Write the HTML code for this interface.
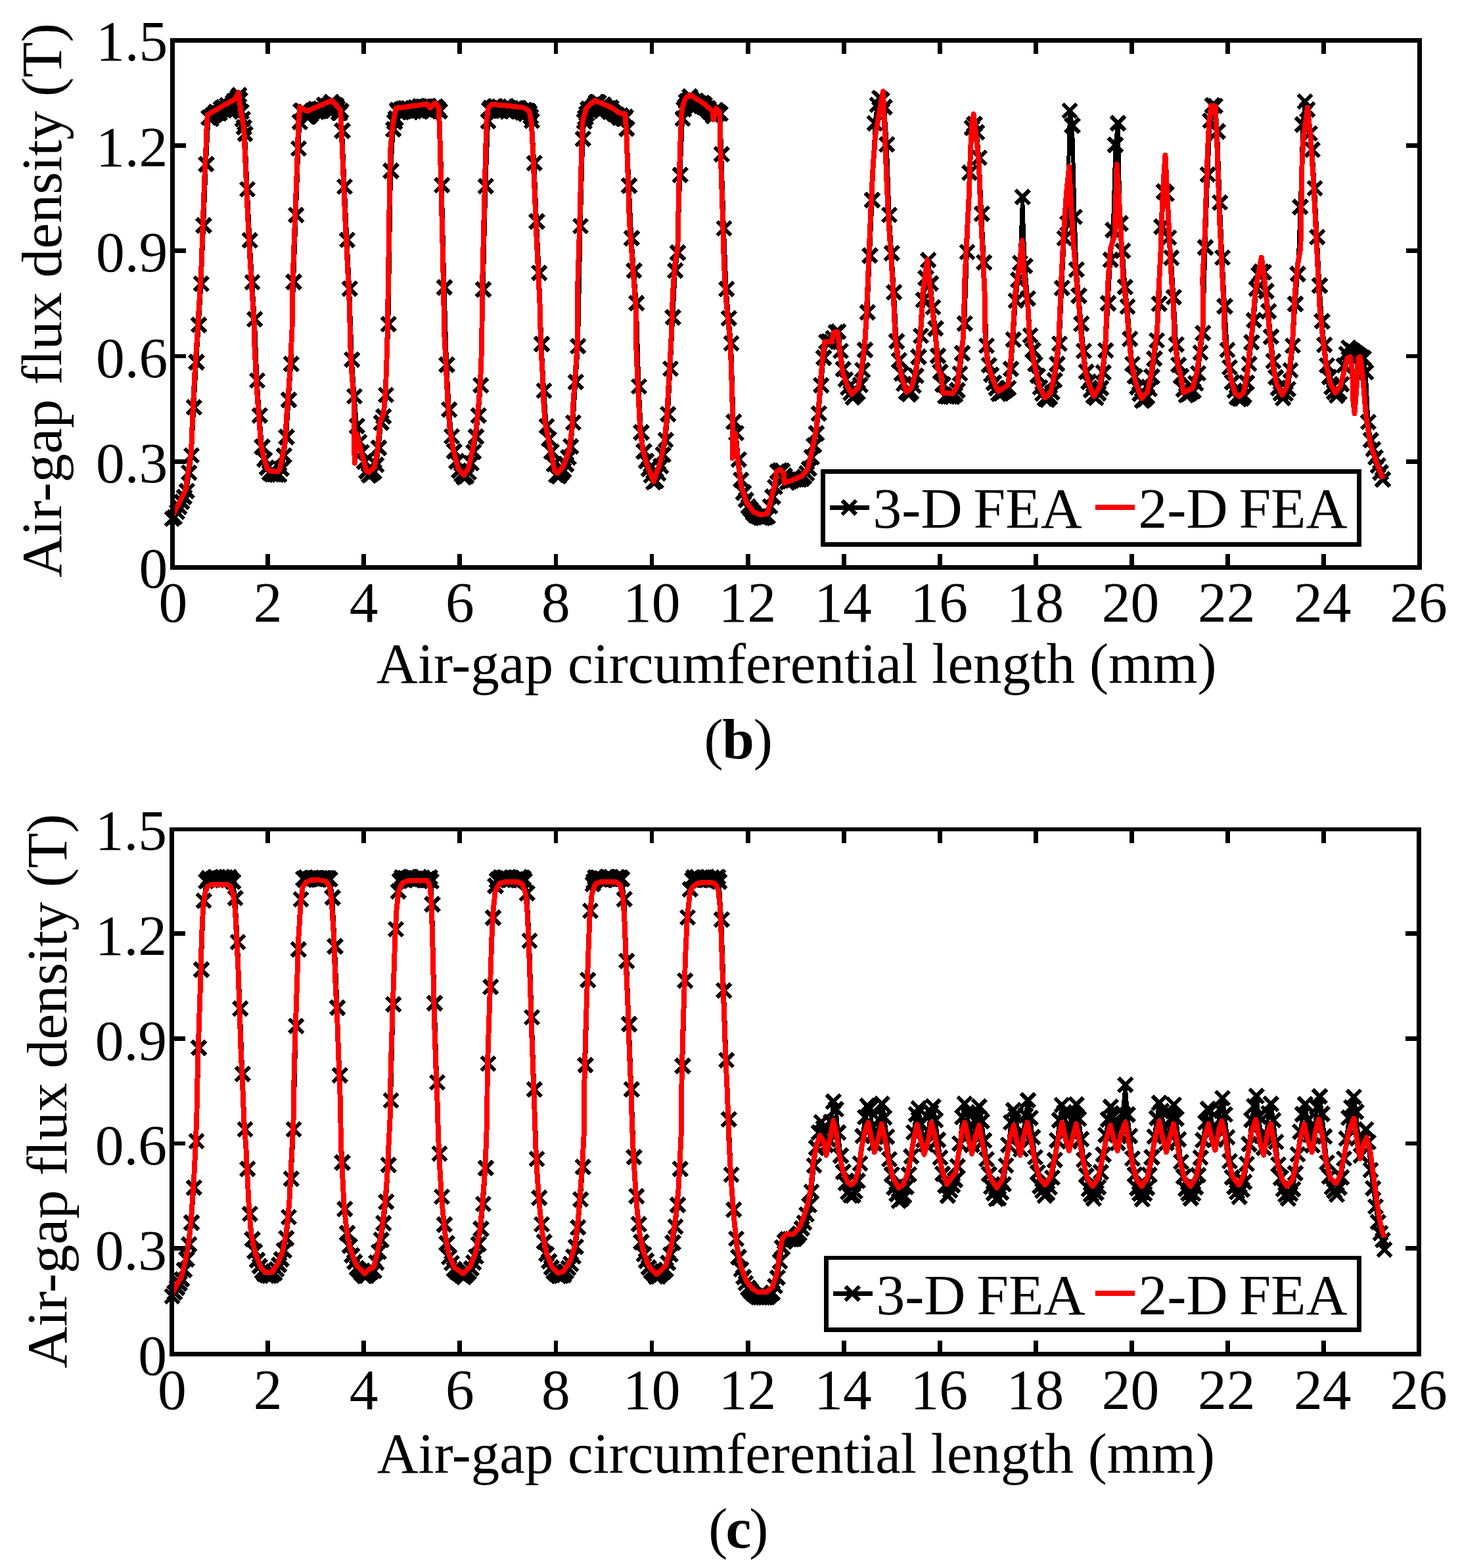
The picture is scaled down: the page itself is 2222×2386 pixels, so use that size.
<!DOCTYPE html>
<html lang="en"><head><meta charset="utf-8">
<title>Air-gap flux density: 3-D FEA vs 2-D FEA</title>
<style>
html,body{margin:0;padding:0;background:#fff}
body{width:2222px;height:2386px;overflow:hidden}
svg{display:block;shape-rendering:crispEdges}
.t{font-family:"Liberation Serif","DejaVu Serif",serif;font-size:87.5px;fill:#000}
.xl{font-size:87.2px}.xl2{font-size:86.95px}.yl{font-size:87.75px}
.m{text-anchor:middle}.e{text-anchor:end}
.b{font-weight:bold}
.ax{fill:none;stroke:#000;stroke-width:6.8}
.tk{fill:none;stroke:#000;stroke-width:6.8}
.lg{fill:#fff;stroke:#000;stroke-width:6.8}
.bl{fill:none;stroke:#000;stroke-width:6.0;stroke-linejoin:round}
.mk{fill:none;stroke:#000;stroke-width:6.0}
.rd{fill:none;stroke:#f00;stroke-width:7.9;stroke-linejoin:round;stroke-linecap:butt}
.ll{stroke:#000;stroke-width:7.1;fill:none}
.lr{stroke:#f00;stroke-width:8;fill:none}
</style></head><body>
<svg width="2222" height="2386" viewBox="0 0 2222 2386" role="img" aria-label="Air-gap flux density versus air-gap circumferential length, 3-D FEA and 2-D FEA">
<rect width="2222" height="2386" fill="#fff"/>
<g id="chart-b">
<polyline class="bl" points="262,789.7 265.7,787 269.4,779.1 273.1,771.5 276.8,763.9 280.5,756.3 284.2,747.1 287.9,719.3 291.6,693 295.3,619.7 299,550.9 302.7,494.5 306.4,431.7 310.1,343.1 313.8,250 317.5,179.1 319.4,178.9 321.2,180.8 323.1,176 324.9,175.3 326.8,174.8 328.6,170.6 330.5,172.1 332.3,172 334.2,172.2 336,165.5 337.9,166.1 339.7,163.4 341.6,168.2 343.4,166.2 345.3,160 347.1,166.5 349,165.3 350.8,161.8 352.7,160.5 354.5,155.8 356.4,153.7 358.2,156.8 360.1,151.2 361.9,148.3 363.8,144.7 365.6,152.1 367.5,170.2 369.3,181.4 371.2,193.8 373,203.8 376.7,288 380.4,365.7 384.1,429.4 387.8,485.7 391.5,578.8 395.2,632.4 398.9,679.9 402.6,699.2 406.3,711.9 410,719.6 413.7,721.7 417.4,722.1 421.1,722.4 424.8,722.1 428.5,713.3 432.2,693.1 435.9,665.1 439.6,608.6 443.3,553.6 447,429.2 450.7,327.3 454.4,225.9 456.3,185.7 458.1,168.9 460,168.9 461.8,171.3 463.7,170.8 465.5,170.5 467.4,177.3 469.2,177.9 471.1,175.9 472.9,174 474.8,170.1 476.6,168.6 478.5,168.3 480.3,165.7 482.2,170.5 484,166.8 485.9,169.6 487.7,165.1 489.6,168.9 491.4,167.2 493.3,159.6 495.1,160.5 497,165.3 498.8,161 500.7,164.3 502.5,158.8 504.4,155.4 506.2,159.1 508.1,161.9 509.9,159.8 511.8,160.3 513.6,164.3 515.5,171.4 517.3,171.7 519.2,168.6 521,199.2 524.7,284 528.4,365.2 532.1,439.2 535.8,547.4 539.5,603.1 543.2,648.3 546.9,672.5 550.6,688 554.3,702.5 558,717 561.7,723.5 565.4,721.3 569.1,717.9 572.8,707.4 576.5,681.7 580.2,643.1 583.9,633.8 587.6,600.9 591.3,493.2 595,260 598.7,196.9 600.6,185.5 602.4,180.3 604.3,167.2 606.1,170 608,168.8 609.8,166.5 611.7,170.6 613.5,165.6 615.4,169.4 617.2,164.9 619.1,167.1 620.9,165.2 622.8,165.4 624.6,170.8 626.5,169.2 628.3,164.9 630.2,169.3 632,163.7 633.9,164.9 635.7,168.3 637.6,166.4 639.4,161.8 641.3,168.7 643.1,162.2 645,162.3 646.8,166.2 648.7,162.4 650.5,161.9 652.4,161.1 654.2,163.8 656.1,169.9 657.9,165.5 659.8,166.7 661.6,163.2 663.5,162.2 665.3,166.5 667.2,165.5 669,169 672.7,281.8 676.4,437.4 680.1,555 683.8,623.1 687.5,663.8 691.2,686.9 694.9,702 698.6,716.3 702.3,722.1 706,726.6 709.7,724.6 713.4,719.1 717.1,704.8 720.8,687.8 724.5,664.6 728.2,632.4 731.9,586.2 735.6,440.5 739.3,283.3 743,184.6 744.9,166.8 746.7,164.5 748.6,168.5 750.4,166.4 752.3,162 754.1,161.7 756,166.2 757.8,168 759.7,162.2 761.5,168.4 763.4,168 765.2,165.9 767.1,164.6 768.9,162.2 770.8,161.9 772.6,169.5 774.5,163.9 776.3,167.8 778.2,164.5 780,169.2 781.9,167.6 783.7,165.4 785.6,164.7 787.4,169.2 789.3,164.2 791.1,165.7 793,168.6 794.8,171.1 796.7,169.5 798.5,167 800.4,173.3 802.2,168.7 804.1,168.4 805.9,171.6 807.8,177.2 809.6,184 813.3,248.3 817,336.9 820.7,415.4 824.4,523.6 828.1,594.6 831.8,648.5 835.5,667.8 839.2,687.1 842.9,706.5 846.6,722.9 850.3,724.9 854,720 857.7,715.2 861.4,706.6 865.1,695.9 868.8,679.3 872.5,642.8 876.2,581.4 879.9,526.8 883.6,344.1 887.3,211.3 889.2,184.8 891,178.9 892.9,173.1 894.7,165.8 896.6,166 898.4,168.5 900.3,167.5 902.1,163.2 904,161.8 905.8,159.3 907.7,155.5 909.5,155.5 911.4,156.1 913.2,164 915.1,163.1 916.9,165.9 918.8,159.1 920.6,164.8 922.5,164.3 924.3,167.1 926.2,164.5 928,170.7 929.9,164.1 931.7,169 933.6,171.7 935.4,174.2 937.3,174.1 939.1,175 941,176.9 942.8,179 944.7,175.7 946.5,179 948.4,181 950.2,181 952.1,177.7 953.9,195.9 957.6,282.5 961.3,362.5 965,411.8 968.7,461.2 972.4,587.9 976.1,658 979.8,687 983.5,701.6 987.2,713.6 990.9,723.7 994.6,733.7 998.3,731.6 1002,720.4 1005.7,709.3 1009.4,691.7 1013.1,669.7 1016.8,630.2 1020.5,560.9 1024.2,483 1027.9,411.8 1031.6,384.5 1035.3,266.2 1039,180.7 1040.9,166.3 1042.7,161.6 1044.6,154.5 1046.4,154.1 1048.3,152.8 1050.1,147.1 1052,150.7 1053.8,154.7 1055.7,155 1057.5,154.9 1059.4,153.4 1061.2,157.3 1063.1,157.2 1064.9,157.3 1066.8,161.6 1068.6,156.7 1070.5,163.2 1072.3,158.6 1074.2,164.6 1076,165.3 1077.9,164.9 1079.7,170.2 1081.6,170.2 1083.4,172.7 1085.3,176.8 1087.1,171.4 1089,167.9 1090.8,168.8 1092.7,172.7 1094.5,171.1 1096.4,173 1098.2,234.7 1101.9,347.6 1105.6,439.8 1109.3,484.3 1113,522.3 1116.7,641.7 1120.4,658.9 1124.1,699.3 1127.8,730.1 1131.5,749.4 1135.2,760.8 1138.9,770.5 1142.6,775.4 1146.3,780.5 1150,784.5 1153.7,785.9 1157.4,787.7 1161.1,788.3 1164.8,787.1 1168.5,786 1172.2,770.6 1175.9,756 1179.6,741.2 1183.3,717.8 1187,715.5 1190.7,716.4 1194.4,723.7 1198.1,733.9 1201.8,732.6 1205.5,731.3 1209.2,729.8 1212.9,729.1 1216.6,729.7 1220.3,729 1224,725.6 1227.7,720.4 1231.4,713.4 1235.1,695.8 1238.8,678 1242.5,659.5 1246.2,629.2 1249.9,586.3 1253.6,544.4 1257.3,520 1261,520 1264.7,520 1268.4,514.8 1272.1,505.5 1275.8,504.9 1279.5,534.1 1283.2,561.9 1286.9,577.4 1290.6,589.7 1294.3,598 1298,604.8 1301.7,600.9 1305.4,597 1309.1,585.8 1312.8,563.3 1316.5,532.4 1320.2,475.1 1323.9,388.9 1327.6,304.6 1331.3,187.9 1335,159.3 1338.7,149.4 1342.4,151.7 1346.1,163.1 1349.8,219.7 1353.5,326.9 1357.2,385.1 1360.9,444.8 1364.6,519.4 1368.3,548.2 1372,568.5 1375.7,584 1379.4,596.3 1383.1,599.9 1386.8,596.6 1390.5,587.2 1394.2,571.7 1397.9,543.1 1401.6,511 1405.3,456.2 1409,423 1412.7,395.8 1416.4,431.4 1420.1,467.4 1423.8,500 1427.5,541.4 1431.2,566 1434.9,585.1 1438.6,602.9 1442.3,603.2 1446,603.5 1449.7,603.7 1453.4,600.5 1457.1,594 1460.8,568.5 1464.5,537.7 1468.2,492.3 1471.9,383.5 1475.6,262.8 1479.3,194.9 1483,188.9 1486.7,201.4 1490.4,240 1494.1,325.3 1497.8,399.3 1501.5,526.2 1505.2,555.7 1508.9,570.2 1512.6,582.5 1516.3,590.9 1520,599.2 1523.7,598.6 1527.4,596.1 1531.1,593.4 1534.8,590.7 1538.5,561.3 1542.2,516.8 1545.9,457.5 1549.6,425.7 1552.4,400 1556.1,299.8 1559.8,405 1564.4,454.3 1568.1,510.5 1571.8,533 1575.5,554.2 1579.2,571.9 1582.9,589.5 1586.6,598.9 1590.3,606.9 1594,608.3 1597.7,604.3 1601.4,597.2 1605.1,578.7 1608.8,554 1612.5,523.1 1616.2,438.3 1619.9,362.5 1624.3,340 1628,168.5 1632,191 1635.7,330 1638.4,410.3 1642.1,450.1 1645.8,492.8 1649.5,534 1653.2,565.8 1656.9,580.9 1660.6,593.5 1664.3,602.8 1668,605.6 1671.7,598.6 1675.4,590.6 1679.1,566.8 1682.8,533.4 1686.5,461.5 1690.2,395.2 1693.8,350 1697.5,220.4 1701.4,187.5 1705.1,340 1708.7,381.8 1712.4,436.8 1716.1,466.4 1719.8,515.8 1723.5,554.1 1727.2,573 1730.9,589 1734.6,599.4 1738.3,609.8 1742,607.8 1745.7,603.3 1749.4,591.8 1753.1,573.1 1756.8,546 1760.5,518 1764.2,462.4 1767.9,345.1 1771.6,291.5 1775.3,294.6 1779,361.5 1782.7,392.3 1786.4,452.2 1790.1,524.3 1793.8,555.4 1797.5,572.4 1801.2,592.9 1804.9,601.6 1808.6,599.5 1812.3,597.4 1816,595.2 1819.7,583.2 1823.4,567.9 1827.1,536.6 1830.8,506.7 1834.5,376.6 1838.2,265.6 1841.9,183.7 1845.6,160.6 1849.3,161.3 1853,200.2 1856.7,308.1 1860.4,392 1864.1,466 1867.8,532.5 1871.5,558.8 1875.2,581.6 1878.9,594.7 1882.6,604.5 1886.3,607.1 1890,606.1 1893.7,602 1897.4,582.4 1901.1,553.7 1904.8,521 1908.5,487.3 1912.2,439.4 1915.9,417.7 1919.6,413.3 1923.3,414.3 1927,442.9 1930.7,473.8 1934.4,512.4 1938.1,549.4 1941.8,574.1 1945.5,590.6 1949.2,598.5 1952.9,605.8 1956.6,599.1 1960.3,592.4 1964,563.3 1967.7,526 1971.4,462.6 1975.1,416.9 1978.8,315 1982.5,189.6 1986.2,154.5 1989.9,166.8 1993.6,203.1 1997.3,227.7 2001,286.6 2004.7,360.6 2008.4,434.6 2012.1,488.9 2015.8,524.8 2019.5,556.1 2023.2,574 2026.9,589.2 2030.6,596.5 2034.3,602.1 2038,597 2041.7,584.9 2045.4,556.2 2049.1,538.6 2052.8,529.4 2056.5,532 2060.2,534.7 2063.9,537.5 2067.6,540.2 2071.3,542.7 2075,545.2 2078.7,566.2 2082.4,642.2 2086.1,669.7 2089.8,683.6 2093.5,695.9 2097.2,708.4 2100.9,719 2104.6,729.5"/>
<path class="mk" d="M251.4 779.1l21.2 21.2m0 -21.2l-21.2 21.2M255.1 776.4l21.2 21.2m0 -21.2l-21.2 21.2M258.8 768.5l21.2 21.2m0 -21.2l-21.2 21.2M262.5 760.9l21.2 21.2m0 -21.2l-21.2 21.2M266.2 753.3l21.2 21.2m0 -21.2l-21.2 21.2M269.9 745.7l21.2 21.2m0 -21.2l-21.2 21.2M273.6 736.5l21.2 21.2m0 -21.2l-21.2 21.2M277.3 708.7l21.2 21.2m0 -21.2l-21.2 21.2M281 682.4l21.2 21.2m0 -21.2l-21.2 21.2M284.7 609.1l21.2 21.2m0 -21.2l-21.2 21.2M288.4 540.3l21.2 21.2m0 -21.2l-21.2 21.2M292.1 483.9l21.2 21.2m0 -21.2l-21.2 21.2M295.8 421.1l21.2 21.2m0 -21.2l-21.2 21.2M299.5 332.5l21.2 21.2m0 -21.2l-21.2 21.2M303.2 239.4l21.2 21.2m0 -21.2l-21.2 21.2M306.9 168.5l21.2 21.2m0 -21.2l-21.2 21.2M308.8 168.3l21.2 21.2m0 -21.2l-21.2 21.2M310.6 170.2l21.2 21.2m0 -21.2l-21.2 21.2M312.5 165.4l21.2 21.2m0 -21.2l-21.2 21.2M314.3 164.7l21.2 21.2m0 -21.2l-21.2 21.2M316.2 164.2l21.2 21.2m0 -21.2l-21.2 21.2M318 160l21.2 21.2m0 -21.2l-21.2 21.2M319.9 161.5l21.2 21.2m0 -21.2l-21.2 21.2M321.7 161.4l21.2 21.2m0 -21.2l-21.2 21.2M323.6 161.6l21.2 21.2m0 -21.2l-21.2 21.2M325.4 154.9l21.2 21.2m0 -21.2l-21.2 21.2M327.3 155.5l21.2 21.2m0 -21.2l-21.2 21.2M329.1 152.8l21.2 21.2m0 -21.2l-21.2 21.2M331 157.6l21.2 21.2m0 -21.2l-21.2 21.2M332.8 155.6l21.2 21.2m0 -21.2l-21.2 21.2M334.7 149.4l21.2 21.2m0 -21.2l-21.2 21.2M336.5 155.9l21.2 21.2m0 -21.2l-21.2 21.2M338.4 154.7l21.2 21.2m0 -21.2l-21.2 21.2M340.2 151.2l21.2 21.2m0 -21.2l-21.2 21.2M342.1 149.9l21.2 21.2m0 -21.2l-21.2 21.2M343.9 145.2l21.2 21.2m0 -21.2l-21.2 21.2M345.8 143.1l21.2 21.2m0 -21.2l-21.2 21.2M347.6 146.2l21.2 21.2m0 -21.2l-21.2 21.2M349.5 140.6l21.2 21.2m0 -21.2l-21.2 21.2M351.3 137.7l21.2 21.2m0 -21.2l-21.2 21.2M353.2 134.1l21.2 21.2m0 -21.2l-21.2 21.2M355 141.5l21.2 21.2m0 -21.2l-21.2 21.2M356.9 159.6l21.2 21.2m0 -21.2l-21.2 21.2M358.7 170.8l21.2 21.2m0 -21.2l-21.2 21.2M360.6 183.2l21.2 21.2m0 -21.2l-21.2 21.2M362.4 193.2l21.2 21.2m0 -21.2l-21.2 21.2M366.1 277.4l21.2 21.2m0 -21.2l-21.2 21.2M369.8 355.1l21.2 21.2m0 -21.2l-21.2 21.2M373.5 418.8l21.2 21.2m0 -21.2l-21.2 21.2M377.2 475.1l21.2 21.2m0 -21.2l-21.2 21.2M380.9 568.2l21.2 21.2m0 -21.2l-21.2 21.2M384.6 621.8l21.2 21.2m0 -21.2l-21.2 21.2M388.3 669.3l21.2 21.2m0 -21.2l-21.2 21.2M392 688.6l21.2 21.2m0 -21.2l-21.2 21.2M395.7 701.3l21.2 21.2m0 -21.2l-21.2 21.2M399.4 709l21.2 21.2m0 -21.2l-21.2 21.2M403.1 711.1l21.2 21.2m0 -21.2l-21.2 21.2M406.8 711.5l21.2 21.2m0 -21.2l-21.2 21.2M410.5 711.8l21.2 21.2m0 -21.2l-21.2 21.2M414.2 711.5l21.2 21.2m0 -21.2l-21.2 21.2M417.9 702.7l21.2 21.2m0 -21.2l-21.2 21.2M421.6 682.5l21.2 21.2m0 -21.2l-21.2 21.2M425.3 654.5l21.2 21.2m0 -21.2l-21.2 21.2M429 598l21.2 21.2m0 -21.2l-21.2 21.2M432.7 543l21.2 21.2m0 -21.2l-21.2 21.2M436.4 418.6l21.2 21.2m0 -21.2l-21.2 21.2M440.1 316.7l21.2 21.2m0 -21.2l-21.2 21.2M443.8 215.3l21.2 21.2m0 -21.2l-21.2 21.2M445.7 175.1l21.2 21.2m0 -21.2l-21.2 21.2M447.5 158.3l21.2 21.2m0 -21.2l-21.2 21.2M449.4 158.3l21.2 21.2m0 -21.2l-21.2 21.2M451.2 160.7l21.2 21.2m0 -21.2l-21.2 21.2M453.1 160.2l21.2 21.2m0 -21.2l-21.2 21.2M454.9 159.9l21.2 21.2m0 -21.2l-21.2 21.2M456.8 166.7l21.2 21.2m0 -21.2l-21.2 21.2M458.6 167.3l21.2 21.2m0 -21.2l-21.2 21.2M460.5 165.3l21.2 21.2m0 -21.2l-21.2 21.2M462.3 163.4l21.2 21.2m0 -21.2l-21.2 21.2M464.2 159.5l21.2 21.2m0 -21.2l-21.2 21.2M466 158l21.2 21.2m0 -21.2l-21.2 21.2M467.9 157.7l21.2 21.2m0 -21.2l-21.2 21.2M469.7 155.1l21.2 21.2m0 -21.2l-21.2 21.2M471.6 159.9l21.2 21.2m0 -21.2l-21.2 21.2M473.4 156.2l21.2 21.2m0 -21.2l-21.2 21.2M475.3 159l21.2 21.2m0 -21.2l-21.2 21.2M477.1 154.5l21.2 21.2m0 -21.2l-21.2 21.2M479 158.3l21.2 21.2m0 -21.2l-21.2 21.2M480.8 156.6l21.2 21.2m0 -21.2l-21.2 21.2M482.7 149l21.2 21.2m0 -21.2l-21.2 21.2M484.5 149.9l21.2 21.2m0 -21.2l-21.2 21.2M486.4 154.7l21.2 21.2m0 -21.2l-21.2 21.2M488.2 150.4l21.2 21.2m0 -21.2l-21.2 21.2M490.1 153.7l21.2 21.2m0 -21.2l-21.2 21.2M491.9 148.2l21.2 21.2m0 -21.2l-21.2 21.2M493.8 144.8l21.2 21.2m0 -21.2l-21.2 21.2M495.6 148.5l21.2 21.2m0 -21.2l-21.2 21.2M497.5 151.3l21.2 21.2m0 -21.2l-21.2 21.2M499.3 149.2l21.2 21.2m0 -21.2l-21.2 21.2M501.2 149.7l21.2 21.2m0 -21.2l-21.2 21.2M503 153.7l21.2 21.2m0 -21.2l-21.2 21.2M504.9 160.8l21.2 21.2m0 -21.2l-21.2 21.2M506.7 161.1l21.2 21.2m0 -21.2l-21.2 21.2M508.6 158l21.2 21.2m0 -21.2l-21.2 21.2M510.4 188.6l21.2 21.2m0 -21.2l-21.2 21.2M514.1 273.4l21.2 21.2m0 -21.2l-21.2 21.2M517.8 354.6l21.2 21.2m0 -21.2l-21.2 21.2M521.5 428.6l21.2 21.2m0 -21.2l-21.2 21.2M525.2 536.8l21.2 21.2m0 -21.2l-21.2 21.2M528.9 592.5l21.2 21.2m0 -21.2l-21.2 21.2M532.6 637.7l21.2 21.2m0 -21.2l-21.2 21.2M536.3 661.9l21.2 21.2m0 -21.2l-21.2 21.2M540 677.4l21.2 21.2m0 -21.2l-21.2 21.2M543.7 691.9l21.2 21.2m0 -21.2l-21.2 21.2M547.4 706.4l21.2 21.2m0 -21.2l-21.2 21.2M551.1 712.9l21.2 21.2m0 -21.2l-21.2 21.2M554.8 710.7l21.2 21.2m0 -21.2l-21.2 21.2M558.5 707.3l21.2 21.2m0 -21.2l-21.2 21.2M562.2 696.8l21.2 21.2m0 -21.2l-21.2 21.2M565.9 671.1l21.2 21.2m0 -21.2l-21.2 21.2M569.6 632.5l21.2 21.2m0 -21.2l-21.2 21.2M573.3 623.2l21.2 21.2m0 -21.2l-21.2 21.2M577 590.3l21.2 21.2m0 -21.2l-21.2 21.2M580.7 482.6l21.2 21.2m0 -21.2l-21.2 21.2M584.4 249.4l21.2 21.2m0 -21.2l-21.2 21.2M588.1 186.3l21.2 21.2m0 -21.2l-21.2 21.2M590 174.9l21.2 21.2m0 -21.2l-21.2 21.2M591.8 169.7l21.2 21.2m0 -21.2l-21.2 21.2M593.7 156.6l21.2 21.2m0 -21.2l-21.2 21.2M595.5 159.4l21.2 21.2m0 -21.2l-21.2 21.2M597.4 158.2l21.2 21.2m0 -21.2l-21.2 21.2M599.2 155.9l21.2 21.2m0 -21.2l-21.2 21.2M601.1 160l21.2 21.2m0 -21.2l-21.2 21.2M602.9 155l21.2 21.2m0 -21.2l-21.2 21.2M604.8 158.8l21.2 21.2m0 -21.2l-21.2 21.2M606.6 154.3l21.2 21.2m0 -21.2l-21.2 21.2M608.5 156.5l21.2 21.2m0 -21.2l-21.2 21.2M610.3 154.6l21.2 21.2m0 -21.2l-21.2 21.2M612.2 154.8l21.2 21.2m0 -21.2l-21.2 21.2M614 160.2l21.2 21.2m0 -21.2l-21.2 21.2M615.9 158.6l21.2 21.2m0 -21.2l-21.2 21.2M617.7 154.3l21.2 21.2m0 -21.2l-21.2 21.2M619.6 158.7l21.2 21.2m0 -21.2l-21.2 21.2M621.4 153.1l21.2 21.2m0 -21.2l-21.2 21.2M623.3 154.3l21.2 21.2m0 -21.2l-21.2 21.2M625.1 157.7l21.2 21.2m0 -21.2l-21.2 21.2M627 155.8l21.2 21.2m0 -21.2l-21.2 21.2M628.8 151.2l21.2 21.2m0 -21.2l-21.2 21.2M630.7 158.1l21.2 21.2m0 -21.2l-21.2 21.2M632.5 151.6l21.2 21.2m0 -21.2l-21.2 21.2M634.4 151.7l21.2 21.2m0 -21.2l-21.2 21.2M636.2 155.6l21.2 21.2m0 -21.2l-21.2 21.2M638.1 151.8l21.2 21.2m0 -21.2l-21.2 21.2M639.9 151.3l21.2 21.2m0 -21.2l-21.2 21.2M641.8 150.5l21.2 21.2m0 -21.2l-21.2 21.2M643.6 153.2l21.2 21.2m0 -21.2l-21.2 21.2M645.5 159.3l21.2 21.2m0 -21.2l-21.2 21.2M647.3 154.9l21.2 21.2m0 -21.2l-21.2 21.2M649.2 156.1l21.2 21.2m0 -21.2l-21.2 21.2M651 152.6l21.2 21.2m0 -21.2l-21.2 21.2M652.9 151.6l21.2 21.2m0 -21.2l-21.2 21.2M654.7 155.9l21.2 21.2m0 -21.2l-21.2 21.2M656.6 154.9l21.2 21.2m0 -21.2l-21.2 21.2M658.4 158.4l21.2 21.2m0 -21.2l-21.2 21.2M662.1 271.2l21.2 21.2m0 -21.2l-21.2 21.2M665.8 426.8l21.2 21.2m0 -21.2l-21.2 21.2M669.5 544.4l21.2 21.2m0 -21.2l-21.2 21.2M673.2 612.5l21.2 21.2m0 -21.2l-21.2 21.2M676.9 653.2l21.2 21.2m0 -21.2l-21.2 21.2M680.6 676.3l21.2 21.2m0 -21.2l-21.2 21.2M684.3 691.4l21.2 21.2m0 -21.2l-21.2 21.2M688 705.7l21.2 21.2m0 -21.2l-21.2 21.2M691.7 711.5l21.2 21.2m0 -21.2l-21.2 21.2M695.4 716l21.2 21.2m0 -21.2l-21.2 21.2M699.1 714l21.2 21.2m0 -21.2l-21.2 21.2M702.8 708.5l21.2 21.2m0 -21.2l-21.2 21.2M706.5 694.2l21.2 21.2m0 -21.2l-21.2 21.2M710.2 677.2l21.2 21.2m0 -21.2l-21.2 21.2M713.9 654l21.2 21.2m0 -21.2l-21.2 21.2M717.6 621.8l21.2 21.2m0 -21.2l-21.2 21.2M721.3 575.6l21.2 21.2m0 -21.2l-21.2 21.2M725 429.9l21.2 21.2m0 -21.2l-21.2 21.2M728.7 272.7l21.2 21.2m0 -21.2l-21.2 21.2M732.4 174l21.2 21.2m0 -21.2l-21.2 21.2M734.3 156.2l21.2 21.2m0 -21.2l-21.2 21.2M736.1 153.9l21.2 21.2m0 -21.2l-21.2 21.2M738 157.9l21.2 21.2m0 -21.2l-21.2 21.2M739.8 155.8l21.2 21.2m0 -21.2l-21.2 21.2M741.7 151.4l21.2 21.2m0 -21.2l-21.2 21.2M743.5 151.1l21.2 21.2m0 -21.2l-21.2 21.2M745.4 155.6l21.2 21.2m0 -21.2l-21.2 21.2M747.2 157.4l21.2 21.2m0 -21.2l-21.2 21.2M749.1 151.6l21.2 21.2m0 -21.2l-21.2 21.2M750.9 157.8l21.2 21.2m0 -21.2l-21.2 21.2M752.8 157.4l21.2 21.2m0 -21.2l-21.2 21.2M754.6 155.3l21.2 21.2m0 -21.2l-21.2 21.2M756.5 154l21.2 21.2m0 -21.2l-21.2 21.2M758.3 151.6l21.2 21.2m0 -21.2l-21.2 21.2M760.2 151.3l21.2 21.2m0 -21.2l-21.2 21.2M762 158.9l21.2 21.2m0 -21.2l-21.2 21.2M763.9 153.3l21.2 21.2m0 -21.2l-21.2 21.2M765.7 157.2l21.2 21.2m0 -21.2l-21.2 21.2M767.6 153.9l21.2 21.2m0 -21.2l-21.2 21.2M769.4 158.6l21.2 21.2m0 -21.2l-21.2 21.2M771.3 157l21.2 21.2m0 -21.2l-21.2 21.2M773.1 154.8l21.2 21.2m0 -21.2l-21.2 21.2M775 154.1l21.2 21.2m0 -21.2l-21.2 21.2M776.8 158.6l21.2 21.2m0 -21.2l-21.2 21.2M778.7 153.6l21.2 21.2m0 -21.2l-21.2 21.2M780.5 155.1l21.2 21.2m0 -21.2l-21.2 21.2M782.4 158l21.2 21.2m0 -21.2l-21.2 21.2M784.2 160.5l21.2 21.2m0 -21.2l-21.2 21.2M786.1 158.9l21.2 21.2m0 -21.2l-21.2 21.2M787.9 156.4l21.2 21.2m0 -21.2l-21.2 21.2M789.8 162.7l21.2 21.2m0 -21.2l-21.2 21.2M791.6 158.1l21.2 21.2m0 -21.2l-21.2 21.2M793.5 157.8l21.2 21.2m0 -21.2l-21.2 21.2M795.3 161l21.2 21.2m0 -21.2l-21.2 21.2M797.2 166.6l21.2 21.2m0 -21.2l-21.2 21.2M799 173.4l21.2 21.2m0 -21.2l-21.2 21.2M802.7 237.7l21.2 21.2m0 -21.2l-21.2 21.2M806.4 326.3l21.2 21.2m0 -21.2l-21.2 21.2M810.1 404.8l21.2 21.2m0 -21.2l-21.2 21.2M813.8 513l21.2 21.2m0 -21.2l-21.2 21.2M817.5 584l21.2 21.2m0 -21.2l-21.2 21.2M821.2 637.9l21.2 21.2m0 -21.2l-21.2 21.2M824.9 657.2l21.2 21.2m0 -21.2l-21.2 21.2M828.6 676.5l21.2 21.2m0 -21.2l-21.2 21.2M832.3 695.9l21.2 21.2m0 -21.2l-21.2 21.2M836 712.3l21.2 21.2m0 -21.2l-21.2 21.2M839.7 714.3l21.2 21.2m0 -21.2l-21.2 21.2M843.4 709.4l21.2 21.2m0 -21.2l-21.2 21.2M847.1 704.6l21.2 21.2m0 -21.2l-21.2 21.2M850.8 696l21.2 21.2m0 -21.2l-21.2 21.2M854.5 685.3l21.2 21.2m0 -21.2l-21.2 21.2M858.2 668.7l21.2 21.2m0 -21.2l-21.2 21.2M861.9 632.2l21.2 21.2m0 -21.2l-21.2 21.2M865.6 570.8l21.2 21.2m0 -21.2l-21.2 21.2M869.3 516.2l21.2 21.2m0 -21.2l-21.2 21.2M873 333.5l21.2 21.2m0 -21.2l-21.2 21.2M876.7 200.7l21.2 21.2m0 -21.2l-21.2 21.2M878.6 174.2l21.2 21.2m0 -21.2l-21.2 21.2M880.4 168.3l21.2 21.2m0 -21.2l-21.2 21.2M882.3 162.5l21.2 21.2m0 -21.2l-21.2 21.2M884.1 155.2l21.2 21.2m0 -21.2l-21.2 21.2M886 155.4l21.2 21.2m0 -21.2l-21.2 21.2M887.8 157.9l21.2 21.2m0 -21.2l-21.2 21.2M889.7 156.9l21.2 21.2m0 -21.2l-21.2 21.2M891.5 152.6l21.2 21.2m0 -21.2l-21.2 21.2M893.4 151.2l21.2 21.2m0 -21.2l-21.2 21.2M895.2 148.7l21.2 21.2m0 -21.2l-21.2 21.2M897.1 144.9l21.2 21.2m0 -21.2l-21.2 21.2M898.9 144.9l21.2 21.2m0 -21.2l-21.2 21.2M900.8 145.5l21.2 21.2m0 -21.2l-21.2 21.2M902.6 153.4l21.2 21.2m0 -21.2l-21.2 21.2M904.5 152.5l21.2 21.2m0 -21.2l-21.2 21.2M906.3 155.3l21.2 21.2m0 -21.2l-21.2 21.2M908.2 148.5l21.2 21.2m0 -21.2l-21.2 21.2M910 154.2l21.2 21.2m0 -21.2l-21.2 21.2M911.9 153.7l21.2 21.2m0 -21.2l-21.2 21.2M913.7 156.5l21.2 21.2m0 -21.2l-21.2 21.2M915.6 153.9l21.2 21.2m0 -21.2l-21.2 21.2M917.4 160.1l21.2 21.2m0 -21.2l-21.2 21.2M919.3 153.5l21.2 21.2m0 -21.2l-21.2 21.2M921.1 158.4l21.2 21.2m0 -21.2l-21.2 21.2M923 161.1l21.2 21.2m0 -21.2l-21.2 21.2M924.8 163.6l21.2 21.2m0 -21.2l-21.2 21.2M926.7 163.5l21.2 21.2m0 -21.2l-21.2 21.2M928.5 164.4l21.2 21.2m0 -21.2l-21.2 21.2M930.4 166.3l21.2 21.2m0 -21.2l-21.2 21.2M932.2 168.4l21.2 21.2m0 -21.2l-21.2 21.2M934.1 165.1l21.2 21.2m0 -21.2l-21.2 21.2M935.9 168.4l21.2 21.2m0 -21.2l-21.2 21.2M937.8 170.4l21.2 21.2m0 -21.2l-21.2 21.2M939.6 170.4l21.2 21.2m0 -21.2l-21.2 21.2M941.5 167.1l21.2 21.2m0 -21.2l-21.2 21.2M943.3 185.3l21.2 21.2m0 -21.2l-21.2 21.2M947 271.9l21.2 21.2m0 -21.2l-21.2 21.2M950.7 351.9l21.2 21.2m0 -21.2l-21.2 21.2M954.4 401.2l21.2 21.2m0 -21.2l-21.2 21.2M958.1 450.6l21.2 21.2m0 -21.2l-21.2 21.2M961.8 577.3l21.2 21.2m0 -21.2l-21.2 21.2M965.5 647.4l21.2 21.2m0 -21.2l-21.2 21.2M969.2 676.4l21.2 21.2m0 -21.2l-21.2 21.2M972.9 691l21.2 21.2m0 -21.2l-21.2 21.2M976.6 703l21.2 21.2m0 -21.2l-21.2 21.2M980.3 713.1l21.2 21.2m0 -21.2l-21.2 21.2M984 723.1l21.2 21.2m0 -21.2l-21.2 21.2M987.7 721l21.2 21.2m0 -21.2l-21.2 21.2M991.4 709.8l21.2 21.2m0 -21.2l-21.2 21.2M995.1 698.7l21.2 21.2m0 -21.2l-21.2 21.2M998.8 681.1l21.2 21.2m0 -21.2l-21.2 21.2M1002.5 659.1l21.2 21.2m0 -21.2l-21.2 21.2M1006.2 619.6l21.2 21.2m0 -21.2l-21.2 21.2M1009.9 550.3l21.2 21.2m0 -21.2l-21.2 21.2M1013.6 472.4l21.2 21.2m0 -21.2l-21.2 21.2M1017.3 401.2l21.2 21.2m0 -21.2l-21.2 21.2M1021 373.9l21.2 21.2m0 -21.2l-21.2 21.2M1024.7 255.6l21.2 21.2m0 -21.2l-21.2 21.2M1028.4 170.1l21.2 21.2m0 -21.2l-21.2 21.2M1030.3 155.7l21.2 21.2m0 -21.2l-21.2 21.2M1032.1 151l21.2 21.2m0 -21.2l-21.2 21.2M1034 143.9l21.2 21.2m0 -21.2l-21.2 21.2M1035.8 143.5l21.2 21.2m0 -21.2l-21.2 21.2M1037.7 142.2l21.2 21.2m0 -21.2l-21.2 21.2M1039.5 136.5l21.2 21.2m0 -21.2l-21.2 21.2M1041.4 140.1l21.2 21.2m0 -21.2l-21.2 21.2M1043.2 144.1l21.2 21.2m0 -21.2l-21.2 21.2M1045.1 144.4l21.2 21.2m0 -21.2l-21.2 21.2M1046.9 144.3l21.2 21.2m0 -21.2l-21.2 21.2M1048.8 142.8l21.2 21.2m0 -21.2l-21.2 21.2M1050.6 146.7l21.2 21.2m0 -21.2l-21.2 21.2M1052.5 146.6l21.2 21.2m0 -21.2l-21.2 21.2M1054.3 146.7l21.2 21.2m0 -21.2l-21.2 21.2M1056.2 151l21.2 21.2m0 -21.2l-21.2 21.2M1058 146.1l21.2 21.2m0 -21.2l-21.2 21.2M1059.9 152.6l21.2 21.2m0 -21.2l-21.2 21.2M1061.7 148l21.2 21.2m0 -21.2l-21.2 21.2M1063.6 154l21.2 21.2m0 -21.2l-21.2 21.2M1065.4 154.7l21.2 21.2m0 -21.2l-21.2 21.2M1067.3 154.3l21.2 21.2m0 -21.2l-21.2 21.2M1069.1 159.6l21.2 21.2m0 -21.2l-21.2 21.2M1071 159.6l21.2 21.2m0 -21.2l-21.2 21.2M1072.8 162.1l21.2 21.2m0 -21.2l-21.2 21.2M1074.7 166.2l21.2 21.2m0 -21.2l-21.2 21.2M1076.5 160.8l21.2 21.2m0 -21.2l-21.2 21.2M1078.4 157.3l21.2 21.2m0 -21.2l-21.2 21.2M1080.2 158.2l21.2 21.2m0 -21.2l-21.2 21.2M1082.1 162.1l21.2 21.2m0 -21.2l-21.2 21.2M1083.9 160.5l21.2 21.2m0 -21.2l-21.2 21.2M1085.8 162.4l21.2 21.2m0 -21.2l-21.2 21.2M1087.6 224.1l21.2 21.2m0 -21.2l-21.2 21.2M1091.3 337l21.2 21.2m0 -21.2l-21.2 21.2M1095 429.2l21.2 21.2m0 -21.2l-21.2 21.2M1098.7 473.7l21.2 21.2m0 -21.2l-21.2 21.2M1102.4 511.7l21.2 21.2m0 -21.2l-21.2 21.2M1106.1 631.1l21.2 21.2m0 -21.2l-21.2 21.2M1109.8 648.3l21.2 21.2m0 -21.2l-21.2 21.2M1113.5 688.7l21.2 21.2m0 -21.2l-21.2 21.2M1117.2 719.5l21.2 21.2m0 -21.2l-21.2 21.2M1120.9 738.8l21.2 21.2m0 -21.2l-21.2 21.2M1124.6 750.2l21.2 21.2m0 -21.2l-21.2 21.2M1128.3 759.9l21.2 21.2m0 -21.2l-21.2 21.2M1132 764.8l21.2 21.2m0 -21.2l-21.2 21.2M1135.7 769.9l21.2 21.2m0 -21.2l-21.2 21.2M1139.4 773.9l21.2 21.2m0 -21.2l-21.2 21.2M1143.1 775.3l21.2 21.2m0 -21.2l-21.2 21.2M1146.8 777.1l21.2 21.2m0 -21.2l-21.2 21.2M1150.5 777.7l21.2 21.2m0 -21.2l-21.2 21.2M1154.2 776.5l21.2 21.2m0 -21.2l-21.2 21.2M1157.9 775.4l21.2 21.2m0 -21.2l-21.2 21.2M1161.6 760l21.2 21.2m0 -21.2l-21.2 21.2M1165.3 745.4l21.2 21.2m0 -21.2l-21.2 21.2M1169 730.6l21.2 21.2m0 -21.2l-21.2 21.2M1172.7 707.2l21.2 21.2m0 -21.2l-21.2 21.2M1176.4 704.9l21.2 21.2m0 -21.2l-21.2 21.2M1180.1 705.8l21.2 21.2m0 -21.2l-21.2 21.2M1183.8 713.1l21.2 21.2m0 -21.2l-21.2 21.2M1187.5 723.3l21.2 21.2m0 -21.2l-21.2 21.2M1191.2 722l21.2 21.2m0 -21.2l-21.2 21.2M1194.9 720.7l21.2 21.2m0 -21.2l-21.2 21.2M1198.6 719.2l21.2 21.2m0 -21.2l-21.2 21.2M1202.3 718.5l21.2 21.2m0 -21.2l-21.2 21.2M1206 719.1l21.2 21.2m0 -21.2l-21.2 21.2M1209.7 718.4l21.2 21.2m0 -21.2l-21.2 21.2M1213.4 715l21.2 21.2m0 -21.2l-21.2 21.2M1217.1 709.8l21.2 21.2m0 -21.2l-21.2 21.2M1220.8 702.8l21.2 21.2m0 -21.2l-21.2 21.2M1224.5 685.2l21.2 21.2m0 -21.2l-21.2 21.2M1228.2 667.4l21.2 21.2m0 -21.2l-21.2 21.2M1231.9 648.9l21.2 21.2m0 -21.2l-21.2 21.2M1235.6 618.6l21.2 21.2m0 -21.2l-21.2 21.2M1239.3 575.7l21.2 21.2m0 -21.2l-21.2 21.2M1243 533.8l21.2 21.2m0 -21.2l-21.2 21.2M1246.7 509.4l21.2 21.2m0 -21.2l-21.2 21.2M1250.4 509.4l21.2 21.2m0 -21.2l-21.2 21.2M1254.1 509.4l21.2 21.2m0 -21.2l-21.2 21.2M1257.8 504.2l21.2 21.2m0 -21.2l-21.2 21.2M1261.5 494.9l21.2 21.2m0 -21.2l-21.2 21.2M1265.2 494.3l21.2 21.2m0 -21.2l-21.2 21.2M1268.9 523.5l21.2 21.2m0 -21.2l-21.2 21.2M1272.6 551.3l21.2 21.2m0 -21.2l-21.2 21.2M1276.3 566.8l21.2 21.2m0 -21.2l-21.2 21.2M1280 579.1l21.2 21.2m0 -21.2l-21.2 21.2M1283.7 587.4l21.2 21.2m0 -21.2l-21.2 21.2M1287.4 594.2l21.2 21.2m0 -21.2l-21.2 21.2M1291.1 590.3l21.2 21.2m0 -21.2l-21.2 21.2M1294.8 586.4l21.2 21.2m0 -21.2l-21.2 21.2M1298.5 575.2l21.2 21.2m0 -21.2l-21.2 21.2M1302.2 552.7l21.2 21.2m0 -21.2l-21.2 21.2M1305.9 521.8l21.2 21.2m0 -21.2l-21.2 21.2M1309.6 464.5l21.2 21.2m0 -21.2l-21.2 21.2M1313.3 378.3l21.2 21.2m0 -21.2l-21.2 21.2M1317 294l21.2 21.2m0 -21.2l-21.2 21.2M1320.7 177.3l21.2 21.2m0 -21.2l-21.2 21.2M1324.4 148.7l21.2 21.2m0 -21.2l-21.2 21.2M1328.1 138.8l21.2 21.2m0 -21.2l-21.2 21.2M1331.8 141.1l21.2 21.2m0 -21.2l-21.2 21.2M1335.5 152.5l21.2 21.2m0 -21.2l-21.2 21.2M1339.2 209.1l21.2 21.2m0 -21.2l-21.2 21.2M1342.9 316.3l21.2 21.2m0 -21.2l-21.2 21.2M1346.6 374.5l21.2 21.2m0 -21.2l-21.2 21.2M1350.3 434.2l21.2 21.2m0 -21.2l-21.2 21.2M1354 508.8l21.2 21.2m0 -21.2l-21.2 21.2M1357.7 537.6l21.2 21.2m0 -21.2l-21.2 21.2M1361.4 557.9l21.2 21.2m0 -21.2l-21.2 21.2M1365.1 573.4l21.2 21.2m0 -21.2l-21.2 21.2M1368.8 585.7l21.2 21.2m0 -21.2l-21.2 21.2M1372.5 589.3l21.2 21.2m0 -21.2l-21.2 21.2M1376.2 586l21.2 21.2m0 -21.2l-21.2 21.2M1379.9 576.6l21.2 21.2m0 -21.2l-21.2 21.2M1383.6 561.1l21.2 21.2m0 -21.2l-21.2 21.2M1387.3 532.5l21.2 21.2m0 -21.2l-21.2 21.2M1391 500.4l21.2 21.2m0 -21.2l-21.2 21.2M1394.7 445.6l21.2 21.2m0 -21.2l-21.2 21.2M1398.4 412.4l21.2 21.2m0 -21.2l-21.2 21.2M1402.1 385.2l21.2 21.2m0 -21.2l-21.2 21.2M1405.8 420.8l21.2 21.2m0 -21.2l-21.2 21.2M1409.5 456.8l21.2 21.2m0 -21.2l-21.2 21.2M1413.2 489.4l21.2 21.2m0 -21.2l-21.2 21.2M1416.9 530.8l21.2 21.2m0 -21.2l-21.2 21.2M1420.6 555.4l21.2 21.2m0 -21.2l-21.2 21.2M1424.3 574.5l21.2 21.2m0 -21.2l-21.2 21.2M1428 592.3l21.2 21.2m0 -21.2l-21.2 21.2M1431.7 592.6l21.2 21.2m0 -21.2l-21.2 21.2M1435.4 592.9l21.2 21.2m0 -21.2l-21.2 21.2M1439.1 593.1l21.2 21.2m0 -21.2l-21.2 21.2M1442.8 589.9l21.2 21.2m0 -21.2l-21.2 21.2M1446.5 583.4l21.2 21.2m0 -21.2l-21.2 21.2M1450.2 557.9l21.2 21.2m0 -21.2l-21.2 21.2M1453.9 527.1l21.2 21.2m0 -21.2l-21.2 21.2M1457.6 481.7l21.2 21.2m0 -21.2l-21.2 21.2M1461.3 372.9l21.2 21.2m0 -21.2l-21.2 21.2M1465 252.2l21.2 21.2m0 -21.2l-21.2 21.2M1468.7 184.3l21.2 21.2m0 -21.2l-21.2 21.2M1472.4 178.3l21.2 21.2m0 -21.2l-21.2 21.2M1476.1 190.8l21.2 21.2m0 -21.2l-21.2 21.2M1479.8 229.4l21.2 21.2m0 -21.2l-21.2 21.2M1483.5 314.7l21.2 21.2m0 -21.2l-21.2 21.2M1487.2 388.7l21.2 21.2m0 -21.2l-21.2 21.2M1490.9 515.6l21.2 21.2m0 -21.2l-21.2 21.2M1494.6 545.1l21.2 21.2m0 -21.2l-21.2 21.2M1498.3 559.6l21.2 21.2m0 -21.2l-21.2 21.2M1502 571.9l21.2 21.2m0 -21.2l-21.2 21.2M1505.7 580.3l21.2 21.2m0 -21.2l-21.2 21.2M1509.4 588.6l21.2 21.2m0 -21.2l-21.2 21.2M1513.1 588l21.2 21.2m0 -21.2l-21.2 21.2M1516.8 585.5l21.2 21.2m0 -21.2l-21.2 21.2M1520.5 582.8l21.2 21.2m0 -21.2l-21.2 21.2M1524.2 580.1l21.2 21.2m0 -21.2l-21.2 21.2M1527.9 550.7l21.2 21.2m0 -21.2l-21.2 21.2M1531.6 506.2l21.2 21.2m0 -21.2l-21.2 21.2M1535.3 446.9l21.2 21.2m0 -21.2l-21.2 21.2M1539 415.1l21.2 21.2m0 -21.2l-21.2 21.2M1541.8 389.4l21.2 21.2m0 -21.2l-21.2 21.2M1545.5 289.2l21.2 21.2m0 -21.2l-21.2 21.2M1549.2 394.4l21.2 21.2m0 -21.2l-21.2 21.2M1553.8 443.7l21.2 21.2m0 -21.2l-21.2 21.2M1557.5 499.9l21.2 21.2m0 -21.2l-21.2 21.2M1561.2 522.4l21.2 21.2m0 -21.2l-21.2 21.2M1564.9 543.6l21.2 21.2m0 -21.2l-21.2 21.2M1568.6 561.3l21.2 21.2m0 -21.2l-21.2 21.2M1572.3 578.9l21.2 21.2m0 -21.2l-21.2 21.2M1576 588.3l21.2 21.2m0 -21.2l-21.2 21.2M1579.7 596.3l21.2 21.2m0 -21.2l-21.2 21.2M1583.4 597.7l21.2 21.2m0 -21.2l-21.2 21.2M1587.1 593.7l21.2 21.2m0 -21.2l-21.2 21.2M1590.8 586.6l21.2 21.2m0 -21.2l-21.2 21.2M1594.5 568.1l21.2 21.2m0 -21.2l-21.2 21.2M1598.2 543.4l21.2 21.2m0 -21.2l-21.2 21.2M1601.9 512.5l21.2 21.2m0 -21.2l-21.2 21.2M1605.6 427.7l21.2 21.2m0 -21.2l-21.2 21.2M1609.3 351.9l21.2 21.2m0 -21.2l-21.2 21.2M1613.7 329.4l21.2 21.2m0 -21.2l-21.2 21.2M1617.4 157.9l21.2 21.2m0 -21.2l-21.2 21.2M1621.4 180.4l21.2 21.2m0 -21.2l-21.2 21.2M1625.1 319.4l21.2 21.2m0 -21.2l-21.2 21.2M1627.8 399.7l21.2 21.2m0 -21.2l-21.2 21.2M1631.5 439.5l21.2 21.2m0 -21.2l-21.2 21.2M1635.2 482.2l21.2 21.2m0 -21.2l-21.2 21.2M1638.9 523.4l21.2 21.2m0 -21.2l-21.2 21.2M1642.6 555.2l21.2 21.2m0 -21.2l-21.2 21.2M1646.3 570.3l21.2 21.2m0 -21.2l-21.2 21.2M1650 582.9l21.2 21.2m0 -21.2l-21.2 21.2M1653.7 592.2l21.2 21.2m0 -21.2l-21.2 21.2M1657.4 595l21.2 21.2m0 -21.2l-21.2 21.2M1661.1 588l21.2 21.2m0 -21.2l-21.2 21.2M1664.8 580l21.2 21.2m0 -21.2l-21.2 21.2M1668.5 556.2l21.2 21.2m0 -21.2l-21.2 21.2M1672.2 522.8l21.2 21.2m0 -21.2l-21.2 21.2M1675.9 450.9l21.2 21.2m0 -21.2l-21.2 21.2M1679.6 384.6l21.2 21.2m0 -21.2l-21.2 21.2M1683.2 339.4l21.2 21.2m0 -21.2l-21.2 21.2M1686.9 209.8l21.2 21.2m0 -21.2l-21.2 21.2M1690.8 176.9l21.2 21.2m0 -21.2l-21.2 21.2M1694.5 329.4l21.2 21.2m0 -21.2l-21.2 21.2M1698.1 371.2l21.2 21.2m0 -21.2l-21.2 21.2M1701.8 426.2l21.2 21.2m0 -21.2l-21.2 21.2M1705.5 455.8l21.2 21.2m0 -21.2l-21.2 21.2M1709.2 505.2l21.2 21.2m0 -21.2l-21.2 21.2M1712.9 543.5l21.2 21.2m0 -21.2l-21.2 21.2M1716.6 562.4l21.2 21.2m0 -21.2l-21.2 21.2M1720.3 578.4l21.2 21.2m0 -21.2l-21.2 21.2M1724 588.8l21.2 21.2m0 -21.2l-21.2 21.2M1727.7 599.2l21.2 21.2m0 -21.2l-21.2 21.2M1731.4 597.2l21.2 21.2m0 -21.2l-21.2 21.2M1735.1 592.7l21.2 21.2m0 -21.2l-21.2 21.2M1738.8 581.2l21.2 21.2m0 -21.2l-21.2 21.2M1742.5 562.5l21.2 21.2m0 -21.2l-21.2 21.2M1746.2 535.4l21.2 21.2m0 -21.2l-21.2 21.2M1749.9 507.4l21.2 21.2m0 -21.2l-21.2 21.2M1753.6 451.8l21.2 21.2m0 -21.2l-21.2 21.2M1757.3 334.5l21.2 21.2m0 -21.2l-21.2 21.2M1761 280.9l21.2 21.2m0 -21.2l-21.2 21.2M1764.7 284l21.2 21.2m0 -21.2l-21.2 21.2M1768.4 350.9l21.2 21.2m0 -21.2l-21.2 21.2M1772.1 381.7l21.2 21.2m0 -21.2l-21.2 21.2M1775.8 441.6l21.2 21.2m0 -21.2l-21.2 21.2M1779.5 513.7l21.2 21.2m0 -21.2l-21.2 21.2M1783.2 544.8l21.2 21.2m0 -21.2l-21.2 21.2M1786.9 561.8l21.2 21.2m0 -21.2l-21.2 21.2M1790.6 582.3l21.2 21.2m0 -21.2l-21.2 21.2M1794.3 591l21.2 21.2m0 -21.2l-21.2 21.2M1798 588.9l21.2 21.2m0 -21.2l-21.2 21.2M1801.7 586.8l21.2 21.2m0 -21.2l-21.2 21.2M1805.4 584.6l21.2 21.2m0 -21.2l-21.2 21.2M1809.1 572.6l21.2 21.2m0 -21.2l-21.2 21.2M1812.8 557.3l21.2 21.2m0 -21.2l-21.2 21.2M1816.5 526l21.2 21.2m0 -21.2l-21.2 21.2M1820.2 496.1l21.2 21.2m0 -21.2l-21.2 21.2M1823.9 366l21.2 21.2m0 -21.2l-21.2 21.2M1827.6 255l21.2 21.2m0 -21.2l-21.2 21.2M1831.3 173.1l21.2 21.2m0 -21.2l-21.2 21.2M1835 150l21.2 21.2m0 -21.2l-21.2 21.2M1838.7 150.7l21.2 21.2m0 -21.2l-21.2 21.2M1842.4 189.6l21.2 21.2m0 -21.2l-21.2 21.2M1846.1 297.5l21.2 21.2m0 -21.2l-21.2 21.2M1849.8 381.4l21.2 21.2m0 -21.2l-21.2 21.2M1853.5 455.4l21.2 21.2m0 -21.2l-21.2 21.2M1857.2 521.9l21.2 21.2m0 -21.2l-21.2 21.2M1860.9 548.2l21.2 21.2m0 -21.2l-21.2 21.2M1864.6 571l21.2 21.2m0 -21.2l-21.2 21.2M1868.3 584.1l21.2 21.2m0 -21.2l-21.2 21.2M1872 593.9l21.2 21.2m0 -21.2l-21.2 21.2M1875.7 596.5l21.2 21.2m0 -21.2l-21.2 21.2M1879.4 595.5l21.2 21.2m0 -21.2l-21.2 21.2M1883.1 591.4l21.2 21.2m0 -21.2l-21.2 21.2M1886.8 571.8l21.2 21.2m0 -21.2l-21.2 21.2M1890.5 543.1l21.2 21.2m0 -21.2l-21.2 21.2M1894.2 510.4l21.2 21.2m0 -21.2l-21.2 21.2M1897.9 476.7l21.2 21.2m0 -21.2l-21.2 21.2M1901.6 428.8l21.2 21.2m0 -21.2l-21.2 21.2M1905.3 407.1l21.2 21.2m0 -21.2l-21.2 21.2M1909 402.7l21.2 21.2m0 -21.2l-21.2 21.2M1912.7 403.7l21.2 21.2m0 -21.2l-21.2 21.2M1916.4 432.3l21.2 21.2m0 -21.2l-21.2 21.2M1920.1 463.2l21.2 21.2m0 -21.2l-21.2 21.2M1923.8 501.8l21.2 21.2m0 -21.2l-21.2 21.2M1927.5 538.8l21.2 21.2m0 -21.2l-21.2 21.2M1931.2 563.5l21.2 21.2m0 -21.2l-21.2 21.2M1934.9 580l21.2 21.2m0 -21.2l-21.2 21.2M1938.6 587.9l21.2 21.2m0 -21.2l-21.2 21.2M1942.3 595.2l21.2 21.2m0 -21.2l-21.2 21.2M1946 588.5l21.2 21.2m0 -21.2l-21.2 21.2M1949.7 581.8l21.2 21.2m0 -21.2l-21.2 21.2M1953.4 552.7l21.2 21.2m0 -21.2l-21.2 21.2M1957.1 515.4l21.2 21.2m0 -21.2l-21.2 21.2M1960.8 452l21.2 21.2m0 -21.2l-21.2 21.2M1964.5 406.3l21.2 21.2m0 -21.2l-21.2 21.2M1968.2 304.4l21.2 21.2m0 -21.2l-21.2 21.2M1971.9 179l21.2 21.2m0 -21.2l-21.2 21.2M1975.6 143.9l21.2 21.2m0 -21.2l-21.2 21.2M1979.3 156.2l21.2 21.2m0 -21.2l-21.2 21.2M1983 192.5l21.2 21.2m0 -21.2l-21.2 21.2M1986.7 217.1l21.2 21.2m0 -21.2l-21.2 21.2M1990.4 276l21.2 21.2m0 -21.2l-21.2 21.2M1994.1 350l21.2 21.2m0 -21.2l-21.2 21.2M1997.8 424l21.2 21.2m0 -21.2l-21.2 21.2M2001.5 478.3l21.2 21.2m0 -21.2l-21.2 21.2M2005.2 514.2l21.2 21.2m0 -21.2l-21.2 21.2M2008.9 545.5l21.2 21.2m0 -21.2l-21.2 21.2M2012.6 563.4l21.2 21.2m0 -21.2l-21.2 21.2M2016.3 578.6l21.2 21.2m0 -21.2l-21.2 21.2M2020 585.9l21.2 21.2m0 -21.2l-21.2 21.2M2023.7 591.5l21.2 21.2m0 -21.2l-21.2 21.2M2027.4 586.4l21.2 21.2m0 -21.2l-21.2 21.2M2031.1 574.3l21.2 21.2m0 -21.2l-21.2 21.2M2034.8 545.6l21.2 21.2m0 -21.2l-21.2 21.2M2038.5 528l21.2 21.2m0 -21.2l-21.2 21.2M2042.2 518.8l21.2 21.2m0 -21.2l-21.2 21.2M2045.9 521.4l21.2 21.2m0 -21.2l-21.2 21.2M2049.6 524.1l21.2 21.2m0 -21.2l-21.2 21.2M2053.3 526.9l21.2 21.2m0 -21.2l-21.2 21.2M2057 529.6l21.2 21.2m0 -21.2l-21.2 21.2M2060.7 532.1l21.2 21.2m0 -21.2l-21.2 21.2M2064.4 534.6l21.2 21.2m0 -21.2l-21.2 21.2M2068.1 555.6l21.2 21.2m0 -21.2l-21.2 21.2M2071.8 631.6l21.2 21.2m0 -21.2l-21.2 21.2M2075.5 659.1l21.2 21.2m0 -21.2l-21.2 21.2M2079.2 673l21.2 21.2m0 -21.2l-21.2 21.2M2082.9 685.3l21.2 21.2m0 -21.2l-21.2 21.2M2086.6 697.8l21.2 21.2m0 -21.2l-21.2 21.2M2090.3 708.4l21.2 21.2m0 -21.2l-21.2 21.2M2094 718.9l21.2 21.2m0 -21.2l-21.2 21.2"/>
<polyline class="rd" points="263,784.7 271.6,767.4 282.4,745.8 286.3,717.7 291.1,685.3 293.2,631.3 296.5,566.4 300.8,501.6 306.6,402.5 308.8,337.7 311.2,272.9 313.3,229.7 314.8,186.4 315.9,174.6 336.4,162.7 358,150.8 362.8,140.6 366.7,171.3 371,192.9 373.6,251.3 376.4,316.1 379.7,380.9 382.3,424.1 387.2,499.8 387.2,523.2 390.5,588 393.7,631.3 396.9,674.5 401.3,696.1 406.7,713.4 411,716.6 422.9,717.7 426.1,713.4 429.4,696.1 433.7,674.5 436.3,631.3 439.7,588 442.3,544.8 444.5,501.6 445.6,424.1 448.8,337.7 452.1,251.3 454.2,186.4 456.4,162.7 467.2,169.2 505,152.9 518,167 520.1,208 522.7,272.9 525.5,337.7 528.8,402.5 532,467.4 533.1,523.2 535.3,566.4 538.5,609.7 539.6,704.7 542.8,659.4 549.3,685.3 557.9,717.7 561.2,718.8 569.8,711.2 574.1,687.5 578.5,642.1 583.9,629.1 587.1,588 589.3,523.2 591,424.1 592.5,316.1 594,229.7 596.8,197.2 602.2,164.8 650,158.3 654.3,164.4 663,156.6 667.7,163.7 669.4,208 671,272.9 672.7,337.7 674.2,402.5 675.5,467.4 675.9,501.6 677,523.2 679.2,566.4 681.3,609.7 684.6,652.9 690,685.3 697.5,713.4 705.8,723.1 712.7,713.4 719.2,685.3 724.6,652.9 728.9,609.7 731.7,566.4 733.2,523.2 734.3,424.1 736.4,337.7 738.6,251.3 740.3,186.4 742.9,164.8 748.3,158.8 768.9,160.5 796.9,163.7 805.6,169.2 808.8,186.4 811,229.7 813.8,294.5 816.4,359.3 819.6,424.1 821.8,467.4 822.9,523.2 825.5,566.4 827.2,609.7 829.4,642.1 833.7,663.7 840.2,696.1 844.5,717.7 848.8,719.9 857.5,709.1 866.1,685.3 870.4,652.9 872.6,609.7 875.8,566.4 878.6,523.2 879.5,424.1 882.3,337.7 884.5,251.3 886.6,186.4 892,164.8 905,152.9 928.8,162.7 943.9,172.4 951.5,173.5 953.6,208 955.8,272.9 957.9,337.7 961.2,380.9 964.4,424.1 967.7,467.4 968.1,523.2 969.8,566.4 972,609.7 974.1,652.9 978.5,685.3 983.9,704.7 994.7,732.8 1004.4,704.7 1010.9,674.5 1015.2,631.3 1017.4,588 1020,544.8 1022.1,501.6 1023.9,445.8 1027.1,402.5 1031.4,376.6 1032.1,337.7 1033.6,272.9 1035.7,208 1037.9,164.8 1043.3,149.7 1050,144.3 1071.6,157.9 1084.6,169.2 1085.7,182.1 1090,164.8 1095.4,171.3 1095.8,208 1098,272.9 1100.1,337.7 1101.9,402.5 1105.1,456.6 1111.6,523.2 1113.1,566.4 1114.4,609.7 1115.5,652.9 1114.8,697.2 1119.2,659.4 1122.4,696.1 1127.8,739.3 1136.4,765.3 1147.2,779.3 1158,783.6 1167.8,781.5 1173.2,760.9 1178.6,739.3 1181.8,717.7 1187.2,714.5 1192.6,719.9 1193.7,735 1205.6,730.7 1220.7,724.2 1229.4,713.4 1235.8,685.3 1242.3,652.9 1246.7,609.7 1249.9,566.4 1253.1,534 1255.3,520 1266.1,520 1268.3,505.9 1274.7,504.9 1278,534 1282.3,566.4 1289.9,588 1296.4,599.9 1306.1,590.2 1310.4,566.4 1313.6,544.8 1316.9,512.4 1320.1,445.8 1322.7,380.9 1325.5,316.1 1328.8,251.3 1332,208 1337.4,175.6 1343.9,138.9 1346.1,186.4 1349.3,272.9 1352.5,337.7 1356.9,402.5 1360.1,456.6 1362.3,512.4 1366.6,544.8 1372,572.9 1379.6,596.7 1387.1,590.2 1393.6,566.4 1397.5,534 1401.2,501.6 1404.4,445.8 1411.3,395 1417.4,456.6 1424.9,523.2 1427.1,560 1432.5,570.8 1434.7,597.8 1450,598.9 1456.5,588 1461.9,544.8 1466.2,512.4 1468.4,424.1 1471.6,359.3 1474.9,294.5 1477,229.7 1479.2,186.4 1481.8,173.5 1485.7,208 1490,251.3 1492.1,316.1 1495.4,380.9 1498.6,445.8 1499.7,523.2 1504,555.6 1510.5,577.2 1519.2,595.6 1534.3,585.9 1538.6,544.8 1541.8,501.6 1545.1,445.8 1548.3,424.1 1551.6,402.5 1555.5,365.8 1559.1,424.1 1564.5,467.4 1566.7,512.4 1574.3,555.6 1581.8,588 1590.5,605.3 1599.1,596.7 1605.6,566.4 1611,523.2 1615.3,424.1 1618.6,359.3 1622.9,294.5 1627.2,253.4 1630.4,316.1 1633.7,370.1 1638,424.1 1642.3,467.4 1646.7,523.2 1652.1,566.4 1658.5,588 1665,603.2 1673.7,588 1679.1,555.6 1682.3,523.2 1686.6,424.1 1689.9,378.8 1696.4,359.3 1698.5,294.5 1699.6,250.2 1703.9,316.1 1707.2,380.9 1709.3,424.1 1714.7,467.4 1718,512.4 1722.3,555.6 1728.8,583.7 1737.4,606.4 1746.1,596.7 1752.5,566.4 1756.9,534 1761.2,501.6 1763.3,445.8 1766.6,380.9 1768.7,316.1 1770.9,272.9 1773.5,236.1 1776.3,294.5 1779.6,359.3 1782.8,424.1 1786,467.4 1787.1,512.4 1792.5,555.6 1797.9,577.2 1801.2,597.8 1815.2,590.2 1821.7,566.4 1827.1,523.2 1831.4,490.8 1830.3,424.1 1833.6,359.3 1835.7,294.5 1837.9,229.7 1840.1,186.4 1843.3,160.5 1849.7,161.6 1851.9,208 1854,272.9 1856.2,337.7 1859.4,402.5 1862.7,467.4 1863.7,512.4 1868.1,544.8 1873.5,577.2 1880,598.9 1886.4,603.2 1892.9,596.7 1898.3,566.4 1901.6,534 1905.9,501.6 1910.2,445.8 1915.6,413.3 1919.9,391.7 1924.3,424.1 1928.6,467.4 1932.9,512.4 1937.2,555.6 1942.6,583.7 1951.3,601 1958.8,588 1963.2,555.6 1967.5,512.4 1970.7,445.8 1975,402.5 1979.4,376.6 1980.4,316.1 1981.5,251.3 1983.7,208 1990.2,163.7 1994.5,208 1998.8,272.9 2002.1,337.7 2005.3,402.5 2008.5,467.4 2012.9,512.4 2018.3,555.6 2024.7,583.7 2032.3,597.8 2039.9,588 2046.4,562.1 2050.7,544.8 2055,542.7 2058.2,566.4 2059.3,609.7 2061.5,629.1 2064.7,588 2066.9,544.8 2070.1,542.7 2074.4,577.2 2078.8,631.3 2085.3,674.5 2096.1,706.9 2104.7,728.5"/>
<rect class="ax" x="262.5" y="61.6" width="1898.2" height="801.9"/>
<path class="tk" d="M407.6 860.1v-17.3M407.6 65v17.3M553.7 860.1v-17.3M553.7 65v17.3M699.8 860.1v-17.3M699.8 65v17.3M845.9 860.1v-17.3M845.9 65v17.3M992 860.1v-17.3M992 65v17.3M1138.1 860.1v-17.3M1138.1 65v17.3M1284.2 860.1v-17.3M1284.2 65v17.3M1430.3 860.1v-17.3M1430.3 65v17.3M1576.4 860.1v-17.3M1576.4 65v17.3M1722.4 860.1v-17.3M1722.4 65v17.3M1868.5 860.1v-17.3M1868.5 65v17.3M2014.6 860.1v-17.3M2014.6 65v17.3M265.9 702.4h17.3M2157.2 702.4h-17.3M265.9 542h17.3M2157.2 542h-17.3M265.9 381.7h17.3M2157.2 381.7h-17.3M265.9 221.3h17.3M2157.2 221.3h-17.3"/>
<text class="t tl m" x="263.4" y="946">0</text>
<text class="t tl m" x="407.6" y="946">2</text>
<text class="t tl m" x="553.7" y="946">4</text>
<text class="t tl m" x="699.8" y="946">6</text>
<text class="t tl m" x="845.9" y="946">8</text>
<text class="t tl m" x="991.7" y="946">10</text>
<text class="t tl m" x="1137.5" y="946">12</text>
<text class="t tl m" x="1283" y="946">14</text>
<text class="t tl m" x="1429.3" y="946">16</text>
<text class="t tl m" x="1575.4" y="946">18</text>
<text class="t tl m" x="1720.6" y="946">20</text>
<text class="t tl m" x="1866.7" y="946">22</text>
<text class="t tl m" x="2012.8" y="946">24</text>
<text class="t tl m" x="2158.9" y="946">26</text>
<text class="t tl e" x="255.3" y="894.3">0</text>
<text class="t tl e" x="255.3" y="733.9">0.3</text>
<text class="t tl e" x="255.3" y="573.5">0.6</text>
<text class="t tl e" x="255.3" y="413.2">0.9</text>
<text class="t tl e" x="255.3" y="252.8">1.2</text>
<text class="t tl e" x="255.3" y="92.4">1.5</text>
<text class="t xl" x="572.7" y="1039">Air-gap circumferential length (mm)</text>
<text class="t yl m" transform="translate(93.1 456.9) rotate(-90)">Air-gap flux density (T)</text>
<text class="t cp" x="1071.4" y="1153.9">(<tspan class="b" dx="-1.4">b</tspan><tspan dx="-1">)</tspan></text>
<rect class="lg" x="1252.6" y="717.4" width="816" height="111.1"/>
<path class="ll" d="M1263 772.3H1323"/>
<path class="mk" d="M1281.8 761.7l21.2 21.2m0 -21.2l-21.2 21.2"/>
<path class="lr" d="M1666.8 771.7H1727.2"/>
<text class="t lt" x="1328.6" y="803.1">3-D<tspan dx="-5"> FEA</tspan></text>
<text class="t lt" x="1732.5" y="803.1">2-D<tspan dx="-5"> FEA</tspan></text>
</g>
<g id="chart-c">
<polyline class="bl" points="262,1972.6 265.7,1966.9 269.4,1959.5 273.1,1953 276.8,1946.9 280.5,1932.4 284.2,1916 287.9,1893.8 291.6,1860.5 295.3,1807.3 299,1736.4 302.7,1594.5 306.4,1475.6 310.1,1370.7 313.8,1340.9 315.7,1339.1 317.5,1336.7 319.4,1338.1 321.2,1339.4 323.1,1337.2 324.9,1337 326.8,1334.9 328.6,1335.8 330.5,1337 332.3,1337.9 334.2,1338.5 336,1336.4 337.9,1334.8 339.7,1335.9 341.6,1339 343.4,1335.6 345.3,1336.8 347.1,1339.2 349,1334.6 350.8,1337.5 352.7,1339.7 354.5,1341.4 358.2,1366.6 361.9,1433.6 365.6,1534.7 369.3,1634.4 373,1718.5 376.7,1778.7 380.4,1847.2 384.1,1885.9 387.8,1904.4 391.5,1917.4 395.2,1926.6 398.9,1934.6 402.6,1938.9 406.3,1941.1 410,1941.1 413.7,1941.1 417.4,1937.6 421.1,1931.5 424.8,1924.9 428.5,1916.3 432.2,1902.7 435.9,1884.2 439.6,1851.9 443.3,1793.6 447,1718.4 450.7,1561.3 454.4,1444.8 458.1,1368.6 461.8,1337.2 463.7,1339 465.5,1335.2 467.4,1337.1 469.2,1338.3 471.1,1337.8 472.9,1336.8 474.8,1335.5 476.6,1337 478.5,1336.4 480.3,1336.9 482.2,1336.3 484,1338.7 485.9,1338.3 487.7,1336.1 489.6,1337.4 491.4,1335.9 493.3,1336.8 495.1,1336.3 497,1337.8 498.8,1336.4 500.7,1336.8 502.5,1338.1 506.2,1366 509.9,1440 513.6,1533.4 517.3,1636.4 521,1769 524.7,1839.6 528.4,1876.6 532.1,1895.9 535.8,1910.1 539.5,1920.3 543.2,1929.7 546.9,1933.7 550.6,1937.7 554.3,1941.7 558,1940.9 561.7,1937.2 565.4,1935.4 569.1,1933.8 572.8,1921.3 576.5,1905.2 580.2,1886.7 583.9,1861.3 587.6,1828.7 591.3,1772.6 595,1674.4 598.7,1528.2 602.4,1414.1 606.1,1356.3 608,1340.7 609.8,1339.3 611.7,1335.4 613.5,1338.2 615.4,1336.6 617.2,1336.6 619.1,1337.7 620.9,1337.1 622.8,1336.6 624.6,1334.5 626.5,1335 628.3,1338 630.2,1337.1 632,1338 633.9,1339.3 635.7,1337.9 637.6,1334.8 639.4,1336 641.3,1337.5 643.1,1335.7 645,1339.3 646.8,1339.2 648.7,1338.7 650.5,1336.9 652.4,1338.7 654.2,1335.2 656.1,1340.8 657.9,1376.1 661.6,1526.6 665.3,1647 669,1755.4 672.7,1821 676.4,1863.4 680.1,1892 683.8,1912.9 687.5,1922.1 691.2,1931.4 694.9,1935.5 698.6,1938 702.3,1940.6 706,1943.2 709.7,1939.6 713.4,1935.9 717.1,1930.3 720.8,1921.1 724.5,1911.8 728.2,1893.3 731.9,1870.1 735.6,1832 739.3,1777.5 743,1618.4 746.7,1501.8 750.4,1396.6 754.1,1348.1 756,1339.5 757.8,1338.2 759.7,1336.9 761.5,1335.2 763.4,1336.2 765.2,1336.1 767.1,1336 768.9,1335.3 770.8,1336.6 772.6,1336.7 774.5,1338.4 776.3,1338.5 778.2,1337.1 780,1336.8 781.9,1338.4 783.7,1338.9 785.6,1337.9 787.4,1338.5 789.3,1339.2 791.1,1334.7 793,1338.9 794.8,1335.9 796.7,1336.9 798.5,1340.1 802.2,1359.3 805.9,1431.4 809.6,1547.9 813.3,1657.6 817,1763.5 820.7,1822.7 824.4,1863.1 828.1,1889.8 831.8,1908.3 835.5,1919.3 839.2,1928.6 842.9,1935.2 846.6,1938.9 850.3,1942 854,1941.1 857.7,1940.2 861.4,1935.3 865.1,1929.4 868.8,1923.4 872.5,1911.9 876.2,1897.4 879.9,1867.8 883.6,1825.2 887.3,1775.8 891,1620.8 894.7,1491.4 898.4,1386 902.1,1345.3 904,1340.9 905.8,1335.2 907.7,1337.8 909.5,1334.8 911.4,1336.3 913.2,1338.6 915.1,1336.6 916.9,1337.5 918.8,1338.1 920.6,1338.6 922.5,1338.3 924.3,1334.5 926.2,1336.6 928,1336.8 929.9,1334.8 931.7,1337.2 933.6,1337.5 935.4,1338.6 937.3,1339.2 939.1,1335.1 941,1335.7 942.8,1337.8 944.7,1335.2 946.5,1337.6 950.2,1368.3 953.9,1462.3 957.6,1558.4 961.3,1657.8 965,1760.8 968.7,1820.2 972.4,1862.8 976.1,1890.1 979.8,1908.5 983.5,1918.7 987.2,1928.8 990.9,1934.4 994.6,1938.4 998.3,1942.5 1002,1942.5 1005.7,1939.1 1009.4,1935.6 1013.1,1932.2 1016.8,1921.7 1020.5,1908.8 1024.2,1891 1027.9,1866.4 1031.6,1833.6 1035.3,1778.6 1039,1622 1042.7,1492.3 1046.4,1395.9 1050.1,1353.2 1053.8,1338.8 1055.7,1335.3 1057.5,1338.4 1059.4,1338.8 1061.2,1334.7 1063.1,1337.2 1064.9,1338.5 1066.8,1339.4 1068.6,1335.9 1070.5,1335.3 1072.3,1338.9 1074.2,1339 1076,1335.5 1077.9,1336.7 1079.7,1338.1 1081.6,1338.7 1083.4,1335.3 1085.3,1337.8 1087.1,1338.5 1089,1337.2 1090.8,1335.3 1092.7,1334.7 1094.5,1341.6 1098.2,1399.3 1101.9,1507.3 1105.6,1613.2 1109.3,1703.4 1113,1787.7 1116.7,1840.7 1120.4,1885 1124.1,1913 1127.8,1931.5 1131.5,1943.3 1135.2,1952.5 1138.9,1959.9 1142.6,1964.6 1146.3,1969.1 1150,1971.4 1153.7,1973.7 1157.4,1974.3 1161.1,1974.3 1164.8,1974.3 1168.5,1973.6 1172.2,1970.4 1175.9,1967.2 1179.6,1957 1183.3,1944.1 1187,1919.5 1190.7,1898.5 1194.4,1889.3 1198.1,1885.7 1201.8,1885.7 1205.5,1885.7 1209.2,1885.2 1212.9,1881.1 1216.6,1876.9 1220.3,1869.2 1224,1860.5 1227.7,1848.1 1231.4,1834.1 1235.1,1813.5 1238.8,1773.5 1242.5,1746.6 1246.2,1723.3 1249.9,1707.4 1253.6,1716.4 1257.3,1742.2 1261,1733.8 1264.7,1707.3 1268.4,1676.3 1272.1,1687.8 1275.8,1723.4 1279.5,1758.6 1283.2,1783.4 1286.9,1800.5 1290.6,1813.9 1294.3,1819.1 1298,1818.9 1301.7,1813.1 1305.4,1796.7 1309.1,1770.4 1312.8,1728.6 1316.5,1700 1320.2,1682.9 1323.9,1686.8 1327.6,1714.3 1331.3,1740.1 1335,1727.4 1338.7,1705 1342.4,1679.8 1346.1,1700.5 1349.8,1729.8 1353.5,1764.2 1357.2,1787.3 1360.9,1807.2 1364.6,1817.2 1368.3,1827.2 1372,1824.8 1375.7,1819.5 1379.4,1806.2 1383.1,1787.2 1386.8,1759.6 1390.5,1723 1394.2,1695.8 1397.9,1686.6 1401.6,1710.7 1405.3,1734.8 1409,1741.7 1412.7,1721.7 1416.4,1692.5 1420.1,1683.8 1423.8,1704.5 1427.5,1734.4 1431.2,1761.5 1434.9,1786.3 1438.6,1804.3 1442.3,1819.5 1446,1811.5 1449.7,1803.5 1453.4,1795.5 1457.1,1774.8 1460.8,1740.3 1464.5,1700.1 1468.2,1679.5 1471.9,1692.9 1475.6,1719.4 1479.3,1742.4 1483,1726.8 1486.7,1702 1490.4,1683.7 1494.1,1705.9 1497.8,1735.3 1501.5,1764 1505.2,1786.6 1508.9,1805.8 1512.6,1815.6 1516.3,1824.2 1520,1823.5 1523.7,1814.9 1527.4,1802.1 1531.1,1773.5 1534.8,1742.2 1538.5,1707.8 1542.2,1689.3 1545.9,1696.7 1549.6,1726 1553.3,1749 1557,1724.1 1560.7,1697.4 1564.4,1674.4 1568.1,1701.2 1571.8,1730.4 1575.5,1761 1579.2,1784.1 1582.9,1804.9 1586.6,1812 1590.3,1819.2 1594,1815.6 1597.7,1807 1601.4,1792 1605.1,1765.3 1608.8,1735.3 1612.5,1704.5 1616.2,1681.5 1619.9,1692.7 1623.6,1718.3 1627.3,1736.6 1631,1723.7 1634.7,1701.5 1638.4,1680.8 1642.1,1702.4 1645.8,1733.1 1649.5,1765.2 1653.2,1788.9 1656.9,1809.4 1660.6,1817.6 1664.3,1823.8 1668,1815.2 1671.7,1806.6 1675.4,1783.8 1679.1,1756.9 1682.8,1727.1 1686.5,1703.4 1690.2,1684.3 1693.9,1699.6 1697.6,1720.9 1701.3,1739.2 1705,1716.3 1708.7,1694.2 1712.6,1650.8 1716.1,1696.1 1719.8,1728.8 1723.5,1763.2 1727.2,1787.3 1730.9,1808.2 1734.6,1816.4 1738.3,1824.6 1742,1816.5 1745.7,1807.9 1749.4,1787.8 1753.1,1761 1756.8,1729.5 1760.5,1701.3 1764.2,1678.3 1767.9,1690.7 1771.6,1718.6 1775.3,1739.2 1779,1725.5 1782.7,1701.6 1786.4,1681 1790.1,1702.1 1793.8,1733.7 1797.5,1768.1 1801.2,1790.3 1804.9,1809.2 1808.6,1816.4 1812.3,1823.5 1816,1816.6 1819.7,1806.6 1823.4,1788.4 1827.1,1761.7 1830.8,1734.9 1834.5,1708.1 1838.2,1687.4 1841.9,1690.5 1845.6,1715.4 1849.3,1734.1 1853,1717.1 1856.7,1688.1 1860.4,1670.9 1864.1,1695.8 1867.8,1730.5 1871.5,1766.9 1875.2,1791.7 1878.9,1806.1 1882.6,1813.7 1886.3,1821.3 1890,1810.2 1893.7,1798.7 1897.4,1771.1 1901.1,1740.9 1904.8,1704.2 1908.5,1683.1 1912.2,1667.8 1915.9,1699.1 1919.6,1728.4 1923.3,1746.8 1927,1726.3 1930.7,1694 1934.4,1679.7 1938.1,1704.5 1941.8,1737.5 1945.5,1771.9 1949.2,1792.2 1952.9,1809.5 1956.6,1817.7 1960.3,1823.9 1964,1816.7 1967.7,1809.6 1971.4,1785.4 1975.1,1756.5 1978.8,1722.1 1982.5,1695.7 1986.2,1680.4 1989.9,1705.2 1993.6,1726.9 1997.3,1742.9 2001,1713.3 2004.7,1684.8 2008.4,1668.4 2012.1,1695 2015.8,1729.3 2019.5,1769.2 2023.2,1790.3 2026.9,1806.5 2030.6,1812.3 2034.3,1818 2038,1806.9 2041.7,1791.6 2045.4,1762.9 2049.1,1732.6 2052.8,1700.7 2056.5,1684.9 2060.2,1669.2 2063.9,1691.9 2067.6,1730.8 2071.3,1758.4 2075,1734.3 2078.7,1718.8 2082.4,1737.9 2086.1,1780.4 2089.8,1808.1 2093.5,1835.9 2097.2,1859.9 2100.9,1876.7 2104.6,1887.1 2107.1,1901.5"/>
<path class="mk" d="M251.4 1962l21.2 21.2m0 -21.2l-21.2 21.2M255.1 1956.3l21.2 21.2m0 -21.2l-21.2 21.2M258.8 1948.9l21.2 21.2m0 -21.2l-21.2 21.2M262.5 1942.4l21.2 21.2m0 -21.2l-21.2 21.2M266.2 1936.3l21.2 21.2m0 -21.2l-21.2 21.2M269.9 1921.8l21.2 21.2m0 -21.2l-21.2 21.2M273.6 1905.4l21.2 21.2m0 -21.2l-21.2 21.2M277.3 1883.2l21.2 21.2m0 -21.2l-21.2 21.2M281 1849.9l21.2 21.2m0 -21.2l-21.2 21.2M284.7 1796.7l21.2 21.2m0 -21.2l-21.2 21.2M288.4 1725.8l21.2 21.2m0 -21.2l-21.2 21.2M292.1 1583.9l21.2 21.2m0 -21.2l-21.2 21.2M295.8 1465l21.2 21.2m0 -21.2l-21.2 21.2M299.5 1360.1l21.2 21.2m0 -21.2l-21.2 21.2M303.2 1330.3l21.2 21.2m0 -21.2l-21.2 21.2M305.1 1328.5l21.2 21.2m0 -21.2l-21.2 21.2M306.9 1326.1l21.2 21.2m0 -21.2l-21.2 21.2M308.8 1327.5l21.2 21.2m0 -21.2l-21.2 21.2M310.6 1328.8l21.2 21.2m0 -21.2l-21.2 21.2M312.5 1326.6l21.2 21.2m0 -21.2l-21.2 21.2M314.3 1326.4l21.2 21.2m0 -21.2l-21.2 21.2M316.2 1324.3l21.2 21.2m0 -21.2l-21.2 21.2M318 1325.2l21.2 21.2m0 -21.2l-21.2 21.2M319.9 1326.4l21.2 21.2m0 -21.2l-21.2 21.2M321.7 1327.3l21.2 21.2m0 -21.2l-21.2 21.2M323.6 1327.9l21.2 21.2m0 -21.2l-21.2 21.2M325.4 1325.8l21.2 21.2m0 -21.2l-21.2 21.2M327.3 1324.2l21.2 21.2m0 -21.2l-21.2 21.2M329.1 1325.3l21.2 21.2m0 -21.2l-21.2 21.2M331 1328.4l21.2 21.2m0 -21.2l-21.2 21.2M332.8 1325l21.2 21.2m0 -21.2l-21.2 21.2M334.7 1326.2l21.2 21.2m0 -21.2l-21.2 21.2M336.5 1328.6l21.2 21.2m0 -21.2l-21.2 21.2M338.4 1324l21.2 21.2m0 -21.2l-21.2 21.2M340.2 1326.9l21.2 21.2m0 -21.2l-21.2 21.2M342.1 1329.1l21.2 21.2m0 -21.2l-21.2 21.2M343.9 1330.8l21.2 21.2m0 -21.2l-21.2 21.2M347.6 1356l21.2 21.2m0 -21.2l-21.2 21.2M351.3 1423l21.2 21.2m0 -21.2l-21.2 21.2M355 1524.1l21.2 21.2m0 -21.2l-21.2 21.2M358.7 1623.8l21.2 21.2m0 -21.2l-21.2 21.2M362.4 1707.9l21.2 21.2m0 -21.2l-21.2 21.2M366.1 1768.1l21.2 21.2m0 -21.2l-21.2 21.2M369.8 1836.6l21.2 21.2m0 -21.2l-21.2 21.2M373.5 1875.3l21.2 21.2m0 -21.2l-21.2 21.2M377.2 1893.8l21.2 21.2m0 -21.2l-21.2 21.2M380.9 1906.8l21.2 21.2m0 -21.2l-21.2 21.2M384.6 1916l21.2 21.2m0 -21.2l-21.2 21.2M388.3 1924l21.2 21.2m0 -21.2l-21.2 21.2M392 1928.3l21.2 21.2m0 -21.2l-21.2 21.2M395.7 1930.5l21.2 21.2m0 -21.2l-21.2 21.2M399.4 1930.5l21.2 21.2m0 -21.2l-21.2 21.2M403.1 1930.5l21.2 21.2m0 -21.2l-21.2 21.2M406.8 1927l21.2 21.2m0 -21.2l-21.2 21.2M410.5 1920.9l21.2 21.2m0 -21.2l-21.2 21.2M414.2 1914.3l21.2 21.2m0 -21.2l-21.2 21.2M417.9 1905.7l21.2 21.2m0 -21.2l-21.2 21.2M421.6 1892.1l21.2 21.2m0 -21.2l-21.2 21.2M425.3 1873.6l21.2 21.2m0 -21.2l-21.2 21.2M429 1841.3l21.2 21.2m0 -21.2l-21.2 21.2M432.7 1783l21.2 21.2m0 -21.2l-21.2 21.2M436.4 1707.8l21.2 21.2m0 -21.2l-21.2 21.2M440.1 1550.7l21.2 21.2m0 -21.2l-21.2 21.2M443.8 1434.2l21.2 21.2m0 -21.2l-21.2 21.2M447.5 1358l21.2 21.2m0 -21.2l-21.2 21.2M451.2 1326.6l21.2 21.2m0 -21.2l-21.2 21.2M453.1 1328.4l21.2 21.2m0 -21.2l-21.2 21.2M454.9 1324.6l21.2 21.2m0 -21.2l-21.2 21.2M456.8 1326.5l21.2 21.2m0 -21.2l-21.2 21.2M458.6 1327.7l21.2 21.2m0 -21.2l-21.2 21.2M460.5 1327.2l21.2 21.2m0 -21.2l-21.2 21.2M462.3 1326.2l21.2 21.2m0 -21.2l-21.2 21.2M464.2 1324.9l21.2 21.2m0 -21.2l-21.2 21.2M466 1326.4l21.2 21.2m0 -21.2l-21.2 21.2M467.9 1325.8l21.2 21.2m0 -21.2l-21.2 21.2M469.7 1326.3l21.2 21.2m0 -21.2l-21.2 21.2M471.6 1325.7l21.2 21.2m0 -21.2l-21.2 21.2M473.4 1328.1l21.2 21.2m0 -21.2l-21.2 21.2M475.3 1327.7l21.2 21.2m0 -21.2l-21.2 21.2M477.1 1325.5l21.2 21.2m0 -21.2l-21.2 21.2M479 1326.8l21.2 21.2m0 -21.2l-21.2 21.2M480.8 1325.3l21.2 21.2m0 -21.2l-21.2 21.2M482.7 1326.2l21.2 21.2m0 -21.2l-21.2 21.2M484.5 1325.7l21.2 21.2m0 -21.2l-21.2 21.2M486.4 1327.2l21.2 21.2m0 -21.2l-21.2 21.2M488.2 1325.8l21.2 21.2m0 -21.2l-21.2 21.2M490.1 1326.2l21.2 21.2m0 -21.2l-21.2 21.2M491.9 1327.5l21.2 21.2m0 -21.2l-21.2 21.2M495.6 1355.4l21.2 21.2m0 -21.2l-21.2 21.2M499.3 1429.4l21.2 21.2m0 -21.2l-21.2 21.2M503 1522.8l21.2 21.2m0 -21.2l-21.2 21.2M506.7 1625.8l21.2 21.2m0 -21.2l-21.2 21.2M510.4 1758.4l21.2 21.2m0 -21.2l-21.2 21.2M514.1 1829l21.2 21.2m0 -21.2l-21.2 21.2M517.8 1866l21.2 21.2m0 -21.2l-21.2 21.2M521.5 1885.3l21.2 21.2m0 -21.2l-21.2 21.2M525.2 1899.5l21.2 21.2m0 -21.2l-21.2 21.2M528.9 1909.7l21.2 21.2m0 -21.2l-21.2 21.2M532.6 1919.1l21.2 21.2m0 -21.2l-21.2 21.2M536.3 1923.1l21.2 21.2m0 -21.2l-21.2 21.2M540 1927.1l21.2 21.2m0 -21.2l-21.2 21.2M543.7 1931.1l21.2 21.2m0 -21.2l-21.2 21.2M547.4 1930.3l21.2 21.2m0 -21.2l-21.2 21.2M551.1 1926.6l21.2 21.2m0 -21.2l-21.2 21.2M554.8 1924.8l21.2 21.2m0 -21.2l-21.2 21.2M558.5 1923.2l21.2 21.2m0 -21.2l-21.2 21.2M562.2 1910.7l21.2 21.2m0 -21.2l-21.2 21.2M565.9 1894.6l21.2 21.2m0 -21.2l-21.2 21.2M569.6 1876.1l21.2 21.2m0 -21.2l-21.2 21.2M573.3 1850.7l21.2 21.2m0 -21.2l-21.2 21.2M577 1818.1l21.2 21.2m0 -21.2l-21.2 21.2M580.7 1762l21.2 21.2m0 -21.2l-21.2 21.2M584.4 1663.8l21.2 21.2m0 -21.2l-21.2 21.2M588.1 1517.6l21.2 21.2m0 -21.2l-21.2 21.2M591.8 1403.5l21.2 21.2m0 -21.2l-21.2 21.2M595.5 1345.7l21.2 21.2m0 -21.2l-21.2 21.2M597.4 1330.1l21.2 21.2m0 -21.2l-21.2 21.2M599.2 1328.7l21.2 21.2m0 -21.2l-21.2 21.2M601.1 1324.8l21.2 21.2m0 -21.2l-21.2 21.2M602.9 1327.6l21.2 21.2m0 -21.2l-21.2 21.2M604.8 1326l21.2 21.2m0 -21.2l-21.2 21.2M606.6 1326l21.2 21.2m0 -21.2l-21.2 21.2M608.5 1327.1l21.2 21.2m0 -21.2l-21.2 21.2M610.3 1326.5l21.2 21.2m0 -21.2l-21.2 21.2M612.2 1326l21.2 21.2m0 -21.2l-21.2 21.2M614 1323.9l21.2 21.2m0 -21.2l-21.2 21.2M615.9 1324.4l21.2 21.2m0 -21.2l-21.2 21.2M617.7 1327.4l21.2 21.2m0 -21.2l-21.2 21.2M619.6 1326.5l21.2 21.2m0 -21.2l-21.2 21.2M621.4 1327.4l21.2 21.2m0 -21.2l-21.2 21.2M623.3 1328.7l21.2 21.2m0 -21.2l-21.2 21.2M625.1 1327.3l21.2 21.2m0 -21.2l-21.2 21.2M627 1324.2l21.2 21.2m0 -21.2l-21.2 21.2M628.8 1325.4l21.2 21.2m0 -21.2l-21.2 21.2M630.7 1326.9l21.2 21.2m0 -21.2l-21.2 21.2M632.5 1325.1l21.2 21.2m0 -21.2l-21.2 21.2M634.4 1328.7l21.2 21.2m0 -21.2l-21.2 21.2M636.2 1328.6l21.2 21.2m0 -21.2l-21.2 21.2M638.1 1328.1l21.2 21.2m0 -21.2l-21.2 21.2M639.9 1326.3l21.2 21.2m0 -21.2l-21.2 21.2M641.8 1328.1l21.2 21.2m0 -21.2l-21.2 21.2M643.6 1324.6l21.2 21.2m0 -21.2l-21.2 21.2M645.5 1330.2l21.2 21.2m0 -21.2l-21.2 21.2M647.3 1365.5l21.2 21.2m0 -21.2l-21.2 21.2M651 1516l21.2 21.2m0 -21.2l-21.2 21.2M654.7 1636.4l21.2 21.2m0 -21.2l-21.2 21.2M658.4 1744.8l21.2 21.2m0 -21.2l-21.2 21.2M662.1 1810.4l21.2 21.2m0 -21.2l-21.2 21.2M665.8 1852.8l21.2 21.2m0 -21.2l-21.2 21.2M669.5 1881.4l21.2 21.2m0 -21.2l-21.2 21.2M673.2 1902.3l21.2 21.2m0 -21.2l-21.2 21.2M676.9 1911.5l21.2 21.2m0 -21.2l-21.2 21.2M680.6 1920.8l21.2 21.2m0 -21.2l-21.2 21.2M684.3 1924.9l21.2 21.2m0 -21.2l-21.2 21.2M688 1927.4l21.2 21.2m0 -21.2l-21.2 21.2M691.7 1930l21.2 21.2m0 -21.2l-21.2 21.2M695.4 1932.6l21.2 21.2m0 -21.2l-21.2 21.2M699.1 1929l21.2 21.2m0 -21.2l-21.2 21.2M702.8 1925.3l21.2 21.2m0 -21.2l-21.2 21.2M706.5 1919.7l21.2 21.2m0 -21.2l-21.2 21.2M710.2 1910.5l21.2 21.2m0 -21.2l-21.2 21.2M713.9 1901.2l21.2 21.2m0 -21.2l-21.2 21.2M717.6 1882.7l21.2 21.2m0 -21.2l-21.2 21.2M721.3 1859.5l21.2 21.2m0 -21.2l-21.2 21.2M725 1821.4l21.2 21.2m0 -21.2l-21.2 21.2M728.7 1766.9l21.2 21.2m0 -21.2l-21.2 21.2M732.4 1607.8l21.2 21.2m0 -21.2l-21.2 21.2M736.1 1491.2l21.2 21.2m0 -21.2l-21.2 21.2M739.8 1386l21.2 21.2m0 -21.2l-21.2 21.2M743.5 1337.5l21.2 21.2m0 -21.2l-21.2 21.2M745.4 1328.9l21.2 21.2m0 -21.2l-21.2 21.2M747.2 1327.6l21.2 21.2m0 -21.2l-21.2 21.2M749.1 1326.3l21.2 21.2m0 -21.2l-21.2 21.2M750.9 1324.6l21.2 21.2m0 -21.2l-21.2 21.2M752.8 1325.6l21.2 21.2m0 -21.2l-21.2 21.2M754.6 1325.5l21.2 21.2m0 -21.2l-21.2 21.2M756.5 1325.4l21.2 21.2m0 -21.2l-21.2 21.2M758.3 1324.7l21.2 21.2m0 -21.2l-21.2 21.2M760.2 1326l21.2 21.2m0 -21.2l-21.2 21.2M762 1326.1l21.2 21.2m0 -21.2l-21.2 21.2M763.9 1327.8l21.2 21.2m0 -21.2l-21.2 21.2M765.7 1327.9l21.2 21.2m0 -21.2l-21.2 21.2M767.6 1326.5l21.2 21.2m0 -21.2l-21.2 21.2M769.4 1326.2l21.2 21.2m0 -21.2l-21.2 21.2M771.3 1327.8l21.2 21.2m0 -21.2l-21.2 21.2M773.1 1328.3l21.2 21.2m0 -21.2l-21.2 21.2M775 1327.3l21.2 21.2m0 -21.2l-21.2 21.2M776.8 1327.9l21.2 21.2m0 -21.2l-21.2 21.2M778.7 1328.6l21.2 21.2m0 -21.2l-21.2 21.2M780.5 1324.1l21.2 21.2m0 -21.2l-21.2 21.2M782.4 1328.3l21.2 21.2m0 -21.2l-21.2 21.2M784.2 1325.3l21.2 21.2m0 -21.2l-21.2 21.2M786.1 1326.3l21.2 21.2m0 -21.2l-21.2 21.2M787.9 1329.5l21.2 21.2m0 -21.2l-21.2 21.2M791.6 1348.7l21.2 21.2m0 -21.2l-21.2 21.2M795.3 1420.8l21.2 21.2m0 -21.2l-21.2 21.2M799 1537.3l21.2 21.2m0 -21.2l-21.2 21.2M802.7 1647l21.2 21.2m0 -21.2l-21.2 21.2M806.4 1752.9l21.2 21.2m0 -21.2l-21.2 21.2M810.1 1812.1l21.2 21.2m0 -21.2l-21.2 21.2M813.8 1852.5l21.2 21.2m0 -21.2l-21.2 21.2M817.5 1879.2l21.2 21.2m0 -21.2l-21.2 21.2M821.2 1897.7l21.2 21.2m0 -21.2l-21.2 21.2M824.9 1908.7l21.2 21.2m0 -21.2l-21.2 21.2M828.6 1918l21.2 21.2m0 -21.2l-21.2 21.2M832.3 1924.6l21.2 21.2m0 -21.2l-21.2 21.2M836 1928.3l21.2 21.2m0 -21.2l-21.2 21.2M839.7 1931.4l21.2 21.2m0 -21.2l-21.2 21.2M843.4 1930.5l21.2 21.2m0 -21.2l-21.2 21.2M847.1 1929.6l21.2 21.2m0 -21.2l-21.2 21.2M850.8 1924.7l21.2 21.2m0 -21.2l-21.2 21.2M854.5 1918.8l21.2 21.2m0 -21.2l-21.2 21.2M858.2 1912.8l21.2 21.2m0 -21.2l-21.2 21.2M861.9 1901.3l21.2 21.2m0 -21.2l-21.2 21.2M865.6 1886.8l21.2 21.2m0 -21.2l-21.2 21.2M869.3 1857.2l21.2 21.2m0 -21.2l-21.2 21.2M873 1814.6l21.2 21.2m0 -21.2l-21.2 21.2M876.7 1765.2l21.2 21.2m0 -21.2l-21.2 21.2M880.4 1610.2l21.2 21.2m0 -21.2l-21.2 21.2M884.1 1480.8l21.2 21.2m0 -21.2l-21.2 21.2M887.8 1375.4l21.2 21.2m0 -21.2l-21.2 21.2M891.5 1334.7l21.2 21.2m0 -21.2l-21.2 21.2M893.4 1330.3l21.2 21.2m0 -21.2l-21.2 21.2M895.2 1324.6l21.2 21.2m0 -21.2l-21.2 21.2M897.1 1327.2l21.2 21.2m0 -21.2l-21.2 21.2M898.9 1324.2l21.2 21.2m0 -21.2l-21.2 21.2M900.8 1325.7l21.2 21.2m0 -21.2l-21.2 21.2M902.6 1328l21.2 21.2m0 -21.2l-21.2 21.2M904.5 1326l21.2 21.2m0 -21.2l-21.2 21.2M906.3 1326.9l21.2 21.2m0 -21.2l-21.2 21.2M908.2 1327.5l21.2 21.2m0 -21.2l-21.2 21.2M910 1328l21.2 21.2m0 -21.2l-21.2 21.2M911.9 1327.7l21.2 21.2m0 -21.2l-21.2 21.2M913.7 1323.9l21.2 21.2m0 -21.2l-21.2 21.2M915.6 1326l21.2 21.2m0 -21.2l-21.2 21.2M917.4 1326.2l21.2 21.2m0 -21.2l-21.2 21.2M919.3 1324.2l21.2 21.2m0 -21.2l-21.2 21.2M921.1 1326.6l21.2 21.2m0 -21.2l-21.2 21.2M923 1326.9l21.2 21.2m0 -21.2l-21.2 21.2M924.8 1328l21.2 21.2m0 -21.2l-21.2 21.2M926.7 1328.6l21.2 21.2m0 -21.2l-21.2 21.2M928.5 1324.5l21.2 21.2m0 -21.2l-21.2 21.2M930.4 1325.1l21.2 21.2m0 -21.2l-21.2 21.2M932.2 1327.2l21.2 21.2m0 -21.2l-21.2 21.2M934.1 1324.6l21.2 21.2m0 -21.2l-21.2 21.2M935.9 1327l21.2 21.2m0 -21.2l-21.2 21.2M939.6 1357.7l21.2 21.2m0 -21.2l-21.2 21.2M943.3 1451.7l21.2 21.2m0 -21.2l-21.2 21.2M947 1547.8l21.2 21.2m0 -21.2l-21.2 21.2M950.7 1647.2l21.2 21.2m0 -21.2l-21.2 21.2M954.4 1750.2l21.2 21.2m0 -21.2l-21.2 21.2M958.1 1809.6l21.2 21.2m0 -21.2l-21.2 21.2M961.8 1852.2l21.2 21.2m0 -21.2l-21.2 21.2M965.5 1879.5l21.2 21.2m0 -21.2l-21.2 21.2M969.2 1897.9l21.2 21.2m0 -21.2l-21.2 21.2M972.9 1908.1l21.2 21.2m0 -21.2l-21.2 21.2M976.6 1918.2l21.2 21.2m0 -21.2l-21.2 21.2M980.3 1923.8l21.2 21.2m0 -21.2l-21.2 21.2M984 1927.8l21.2 21.2m0 -21.2l-21.2 21.2M987.7 1931.9l21.2 21.2m0 -21.2l-21.2 21.2M991.4 1931.9l21.2 21.2m0 -21.2l-21.2 21.2M995.1 1928.5l21.2 21.2m0 -21.2l-21.2 21.2M998.8 1925l21.2 21.2m0 -21.2l-21.2 21.2M1002.5 1921.6l21.2 21.2m0 -21.2l-21.2 21.2M1006.2 1911.1l21.2 21.2m0 -21.2l-21.2 21.2M1009.9 1898.2l21.2 21.2m0 -21.2l-21.2 21.2M1013.6 1880.4l21.2 21.2m0 -21.2l-21.2 21.2M1017.3 1855.8l21.2 21.2m0 -21.2l-21.2 21.2M1021 1823l21.2 21.2m0 -21.2l-21.2 21.2M1024.7 1768l21.2 21.2m0 -21.2l-21.2 21.2M1028.4 1611.4l21.2 21.2m0 -21.2l-21.2 21.2M1032.1 1481.7l21.2 21.2m0 -21.2l-21.2 21.2M1035.8 1385.3l21.2 21.2m0 -21.2l-21.2 21.2M1039.5 1342.6l21.2 21.2m0 -21.2l-21.2 21.2M1043.2 1328.2l21.2 21.2m0 -21.2l-21.2 21.2M1045.1 1324.7l21.2 21.2m0 -21.2l-21.2 21.2M1046.9 1327.8l21.2 21.2m0 -21.2l-21.2 21.2M1048.8 1328.2l21.2 21.2m0 -21.2l-21.2 21.2M1050.6 1324.1l21.2 21.2m0 -21.2l-21.2 21.2M1052.5 1326.6l21.2 21.2m0 -21.2l-21.2 21.2M1054.3 1327.9l21.2 21.2m0 -21.2l-21.2 21.2M1056.2 1328.8l21.2 21.2m0 -21.2l-21.2 21.2M1058 1325.3l21.2 21.2m0 -21.2l-21.2 21.2M1059.9 1324.7l21.2 21.2m0 -21.2l-21.2 21.2M1061.7 1328.3l21.2 21.2m0 -21.2l-21.2 21.2M1063.6 1328.4l21.2 21.2m0 -21.2l-21.2 21.2M1065.4 1324.9l21.2 21.2m0 -21.2l-21.2 21.2M1067.3 1326.1l21.2 21.2m0 -21.2l-21.2 21.2M1069.1 1327.5l21.2 21.2m0 -21.2l-21.2 21.2M1071 1328.1l21.2 21.2m0 -21.2l-21.2 21.2M1072.8 1324.7l21.2 21.2m0 -21.2l-21.2 21.2M1074.7 1327.2l21.2 21.2m0 -21.2l-21.2 21.2M1076.5 1327.9l21.2 21.2m0 -21.2l-21.2 21.2M1078.4 1326.6l21.2 21.2m0 -21.2l-21.2 21.2M1080.2 1324.7l21.2 21.2m0 -21.2l-21.2 21.2M1082.1 1324.1l21.2 21.2m0 -21.2l-21.2 21.2M1083.9 1331l21.2 21.2m0 -21.2l-21.2 21.2M1087.6 1388.7l21.2 21.2m0 -21.2l-21.2 21.2M1091.3 1496.7l21.2 21.2m0 -21.2l-21.2 21.2M1095 1602.6l21.2 21.2m0 -21.2l-21.2 21.2M1098.7 1692.8l21.2 21.2m0 -21.2l-21.2 21.2M1102.4 1777.1l21.2 21.2m0 -21.2l-21.2 21.2M1106.1 1830.1l21.2 21.2m0 -21.2l-21.2 21.2M1109.8 1874.4l21.2 21.2m0 -21.2l-21.2 21.2M1113.5 1902.4l21.2 21.2m0 -21.2l-21.2 21.2M1117.2 1920.9l21.2 21.2m0 -21.2l-21.2 21.2M1120.9 1932.7l21.2 21.2m0 -21.2l-21.2 21.2M1124.6 1941.9l21.2 21.2m0 -21.2l-21.2 21.2M1128.3 1949.3l21.2 21.2m0 -21.2l-21.2 21.2M1132 1954l21.2 21.2m0 -21.2l-21.2 21.2M1135.7 1958.5l21.2 21.2m0 -21.2l-21.2 21.2M1139.4 1960.8l21.2 21.2m0 -21.2l-21.2 21.2M1143.1 1963.1l21.2 21.2m0 -21.2l-21.2 21.2M1146.8 1963.7l21.2 21.2m0 -21.2l-21.2 21.2M1150.5 1963.7l21.2 21.2m0 -21.2l-21.2 21.2M1154.2 1963.7l21.2 21.2m0 -21.2l-21.2 21.2M1157.9 1963l21.2 21.2m0 -21.2l-21.2 21.2M1161.6 1959.8l21.2 21.2m0 -21.2l-21.2 21.2M1165.3 1956.6l21.2 21.2m0 -21.2l-21.2 21.2M1169 1946.4l21.2 21.2m0 -21.2l-21.2 21.2M1172.7 1933.5l21.2 21.2m0 -21.2l-21.2 21.2M1176.4 1908.9l21.2 21.2m0 -21.2l-21.2 21.2M1180.1 1887.9l21.2 21.2m0 -21.2l-21.2 21.2M1183.8 1878.7l21.2 21.2m0 -21.2l-21.2 21.2M1187.5 1875.1l21.2 21.2m0 -21.2l-21.2 21.2M1191.2 1875.1l21.2 21.2m0 -21.2l-21.2 21.2M1194.9 1875.1l21.2 21.2m0 -21.2l-21.2 21.2M1198.6 1874.6l21.2 21.2m0 -21.2l-21.2 21.2M1202.3 1870.5l21.2 21.2m0 -21.2l-21.2 21.2M1206 1866.3l21.2 21.2m0 -21.2l-21.2 21.2M1209.7 1858.6l21.2 21.2m0 -21.2l-21.2 21.2M1213.4 1849.9l21.2 21.2m0 -21.2l-21.2 21.2M1217.1 1837.5l21.2 21.2m0 -21.2l-21.2 21.2M1220.8 1823.5l21.2 21.2m0 -21.2l-21.2 21.2M1224.5 1802.9l21.2 21.2m0 -21.2l-21.2 21.2M1228.2 1762.9l21.2 21.2m0 -21.2l-21.2 21.2M1231.9 1736l21.2 21.2m0 -21.2l-21.2 21.2M1235.6 1712.7l21.2 21.2m0 -21.2l-21.2 21.2M1239.3 1696.8l21.2 21.2m0 -21.2l-21.2 21.2M1243 1705.8l21.2 21.2m0 -21.2l-21.2 21.2M1246.7 1731.6l21.2 21.2m0 -21.2l-21.2 21.2M1250.4 1723.2l21.2 21.2m0 -21.2l-21.2 21.2M1254.1 1696.7l21.2 21.2m0 -21.2l-21.2 21.2M1257.8 1665.7l21.2 21.2m0 -21.2l-21.2 21.2M1261.5 1677.2l21.2 21.2m0 -21.2l-21.2 21.2M1265.2 1712.8l21.2 21.2m0 -21.2l-21.2 21.2M1268.9 1748l21.2 21.2m0 -21.2l-21.2 21.2M1272.6 1772.8l21.2 21.2m0 -21.2l-21.2 21.2M1276.3 1789.9l21.2 21.2m0 -21.2l-21.2 21.2M1280 1803.3l21.2 21.2m0 -21.2l-21.2 21.2M1283.7 1808.5l21.2 21.2m0 -21.2l-21.2 21.2M1287.4 1808.3l21.2 21.2m0 -21.2l-21.2 21.2M1291.1 1802.5l21.2 21.2m0 -21.2l-21.2 21.2M1294.8 1786.1l21.2 21.2m0 -21.2l-21.2 21.2M1298.5 1759.8l21.2 21.2m0 -21.2l-21.2 21.2M1302.2 1718l21.2 21.2m0 -21.2l-21.2 21.2M1305.9 1689.4l21.2 21.2m0 -21.2l-21.2 21.2M1309.6 1672.3l21.2 21.2m0 -21.2l-21.2 21.2M1313.3 1676.2l21.2 21.2m0 -21.2l-21.2 21.2M1317 1703.7l21.2 21.2m0 -21.2l-21.2 21.2M1320.7 1729.5l21.2 21.2m0 -21.2l-21.2 21.2M1324.4 1716.8l21.2 21.2m0 -21.2l-21.2 21.2M1328.1 1694.4l21.2 21.2m0 -21.2l-21.2 21.2M1331.8 1669.2l21.2 21.2m0 -21.2l-21.2 21.2M1335.5 1689.9l21.2 21.2m0 -21.2l-21.2 21.2M1339.2 1719.2l21.2 21.2m0 -21.2l-21.2 21.2M1342.9 1753.6l21.2 21.2m0 -21.2l-21.2 21.2M1346.6 1776.7l21.2 21.2m0 -21.2l-21.2 21.2M1350.3 1796.6l21.2 21.2m0 -21.2l-21.2 21.2M1354 1806.6l21.2 21.2m0 -21.2l-21.2 21.2M1357.7 1816.6l21.2 21.2m0 -21.2l-21.2 21.2M1361.4 1814.2l21.2 21.2m0 -21.2l-21.2 21.2M1365.1 1808.9l21.2 21.2m0 -21.2l-21.2 21.2M1368.8 1795.6l21.2 21.2m0 -21.2l-21.2 21.2M1372.5 1776.6l21.2 21.2m0 -21.2l-21.2 21.2M1376.2 1749l21.2 21.2m0 -21.2l-21.2 21.2M1379.9 1712.4l21.2 21.2m0 -21.2l-21.2 21.2M1383.6 1685.2l21.2 21.2m0 -21.2l-21.2 21.2M1387.3 1676l21.2 21.2m0 -21.2l-21.2 21.2M1391 1700.1l21.2 21.2m0 -21.2l-21.2 21.2M1394.7 1724.2l21.2 21.2m0 -21.2l-21.2 21.2M1398.4 1731.1l21.2 21.2m0 -21.2l-21.2 21.2M1402.1 1711.1l21.2 21.2m0 -21.2l-21.2 21.2M1405.8 1681.9l21.2 21.2m0 -21.2l-21.2 21.2M1409.5 1673.2l21.2 21.2m0 -21.2l-21.2 21.2M1413.2 1693.9l21.2 21.2m0 -21.2l-21.2 21.2M1416.9 1723.8l21.2 21.2m0 -21.2l-21.2 21.2M1420.6 1750.9l21.2 21.2m0 -21.2l-21.2 21.2M1424.3 1775.7l21.2 21.2m0 -21.2l-21.2 21.2M1428 1793.7l21.2 21.2m0 -21.2l-21.2 21.2M1431.7 1808.9l21.2 21.2m0 -21.2l-21.2 21.2M1435.4 1800.9l21.2 21.2m0 -21.2l-21.2 21.2M1439.1 1792.9l21.2 21.2m0 -21.2l-21.2 21.2M1442.8 1784.9l21.2 21.2m0 -21.2l-21.2 21.2M1446.5 1764.2l21.2 21.2m0 -21.2l-21.2 21.2M1450.2 1729.7l21.2 21.2m0 -21.2l-21.2 21.2M1453.9 1689.5l21.2 21.2m0 -21.2l-21.2 21.2M1457.6 1668.9l21.2 21.2m0 -21.2l-21.2 21.2M1461.3 1682.3l21.2 21.2m0 -21.2l-21.2 21.2M1465 1708.8l21.2 21.2m0 -21.2l-21.2 21.2M1468.7 1731.8l21.2 21.2m0 -21.2l-21.2 21.2M1472.4 1716.2l21.2 21.2m0 -21.2l-21.2 21.2M1476.1 1691.4l21.2 21.2m0 -21.2l-21.2 21.2M1479.8 1673.1l21.2 21.2m0 -21.2l-21.2 21.2M1483.5 1695.3l21.2 21.2m0 -21.2l-21.2 21.2M1487.2 1724.7l21.2 21.2m0 -21.2l-21.2 21.2M1490.9 1753.4l21.2 21.2m0 -21.2l-21.2 21.2M1494.6 1776l21.2 21.2m0 -21.2l-21.2 21.2M1498.3 1795.2l21.2 21.2m0 -21.2l-21.2 21.2M1502 1805l21.2 21.2m0 -21.2l-21.2 21.2M1505.7 1813.6l21.2 21.2m0 -21.2l-21.2 21.2M1509.4 1812.9l21.2 21.2m0 -21.2l-21.2 21.2M1513.1 1804.3l21.2 21.2m0 -21.2l-21.2 21.2M1516.8 1791.5l21.2 21.2m0 -21.2l-21.2 21.2M1520.5 1762.9l21.2 21.2m0 -21.2l-21.2 21.2M1524.2 1731.6l21.2 21.2m0 -21.2l-21.2 21.2M1527.9 1697.2l21.2 21.2m0 -21.2l-21.2 21.2M1531.6 1678.7l21.2 21.2m0 -21.2l-21.2 21.2M1535.3 1686.1l21.2 21.2m0 -21.2l-21.2 21.2M1539 1715.4l21.2 21.2m0 -21.2l-21.2 21.2M1542.7 1738.4l21.2 21.2m0 -21.2l-21.2 21.2M1546.4 1713.5l21.2 21.2m0 -21.2l-21.2 21.2M1550.1 1686.8l21.2 21.2m0 -21.2l-21.2 21.2M1553.8 1663.8l21.2 21.2m0 -21.2l-21.2 21.2M1557.5 1690.6l21.2 21.2m0 -21.2l-21.2 21.2M1561.2 1719.8l21.2 21.2m0 -21.2l-21.2 21.2M1564.9 1750.4l21.2 21.2m0 -21.2l-21.2 21.2M1568.6 1773.5l21.2 21.2m0 -21.2l-21.2 21.2M1572.3 1794.3l21.2 21.2m0 -21.2l-21.2 21.2M1576 1801.4l21.2 21.2m0 -21.2l-21.2 21.2M1579.7 1808.6l21.2 21.2m0 -21.2l-21.2 21.2M1583.4 1805l21.2 21.2m0 -21.2l-21.2 21.2M1587.1 1796.4l21.2 21.2m0 -21.2l-21.2 21.2M1590.8 1781.4l21.2 21.2m0 -21.2l-21.2 21.2M1594.5 1754.7l21.2 21.2m0 -21.2l-21.2 21.2M1598.2 1724.7l21.2 21.2m0 -21.2l-21.2 21.2M1601.9 1693.9l21.2 21.2m0 -21.2l-21.2 21.2M1605.6 1670.9l21.2 21.2m0 -21.2l-21.2 21.2M1609.3 1682.1l21.2 21.2m0 -21.2l-21.2 21.2M1613 1707.7l21.2 21.2m0 -21.2l-21.2 21.2M1616.7 1726l21.2 21.2m0 -21.2l-21.2 21.2M1620.4 1713.1l21.2 21.2m0 -21.2l-21.2 21.2M1624.1 1690.9l21.2 21.2m0 -21.2l-21.2 21.2M1627.8 1670.2l21.2 21.2m0 -21.2l-21.2 21.2M1631.5 1691.8l21.2 21.2m0 -21.2l-21.2 21.2M1635.2 1722.5l21.2 21.2m0 -21.2l-21.2 21.2M1638.9 1754.6l21.2 21.2m0 -21.2l-21.2 21.2M1642.6 1778.3l21.2 21.2m0 -21.2l-21.2 21.2M1646.3 1798.8l21.2 21.2m0 -21.2l-21.2 21.2M1650 1807l21.2 21.2m0 -21.2l-21.2 21.2M1653.7 1813.2l21.2 21.2m0 -21.2l-21.2 21.2M1657.4 1804.6l21.2 21.2m0 -21.2l-21.2 21.2M1661.1 1796l21.2 21.2m0 -21.2l-21.2 21.2M1664.8 1773.2l21.2 21.2m0 -21.2l-21.2 21.2M1668.5 1746.3l21.2 21.2m0 -21.2l-21.2 21.2M1672.2 1716.5l21.2 21.2m0 -21.2l-21.2 21.2M1675.9 1692.8l21.2 21.2m0 -21.2l-21.2 21.2M1679.6 1673.7l21.2 21.2m0 -21.2l-21.2 21.2M1683.3 1689l21.2 21.2m0 -21.2l-21.2 21.2M1687 1710.3l21.2 21.2m0 -21.2l-21.2 21.2M1690.7 1728.6l21.2 21.2m0 -21.2l-21.2 21.2M1694.4 1705.7l21.2 21.2m0 -21.2l-21.2 21.2M1698.1 1683.6l21.2 21.2m0 -21.2l-21.2 21.2M1702 1640.2l21.2 21.2m0 -21.2l-21.2 21.2M1705.5 1685.5l21.2 21.2m0 -21.2l-21.2 21.2M1709.2 1718.2l21.2 21.2m0 -21.2l-21.2 21.2M1712.9 1752.6l21.2 21.2m0 -21.2l-21.2 21.2M1716.6 1776.7l21.2 21.2m0 -21.2l-21.2 21.2M1720.3 1797.6l21.2 21.2m0 -21.2l-21.2 21.2M1724 1805.8l21.2 21.2m0 -21.2l-21.2 21.2M1727.7 1814l21.2 21.2m0 -21.2l-21.2 21.2M1731.4 1805.9l21.2 21.2m0 -21.2l-21.2 21.2M1735.1 1797.3l21.2 21.2m0 -21.2l-21.2 21.2M1738.8 1777.2l21.2 21.2m0 -21.2l-21.2 21.2M1742.5 1750.4l21.2 21.2m0 -21.2l-21.2 21.2M1746.2 1718.9l21.2 21.2m0 -21.2l-21.2 21.2M1749.9 1690.7l21.2 21.2m0 -21.2l-21.2 21.2M1753.6 1667.7l21.2 21.2m0 -21.2l-21.2 21.2M1757.3 1680.1l21.2 21.2m0 -21.2l-21.2 21.2M1761 1708l21.2 21.2m0 -21.2l-21.2 21.2M1764.7 1728.6l21.2 21.2m0 -21.2l-21.2 21.2M1768.4 1714.9l21.2 21.2m0 -21.2l-21.2 21.2M1772.1 1691l21.2 21.2m0 -21.2l-21.2 21.2M1775.8 1670.4l21.2 21.2m0 -21.2l-21.2 21.2M1779.5 1691.5l21.2 21.2m0 -21.2l-21.2 21.2M1783.2 1723.1l21.2 21.2m0 -21.2l-21.2 21.2M1786.9 1757.5l21.2 21.2m0 -21.2l-21.2 21.2M1790.6 1779.7l21.2 21.2m0 -21.2l-21.2 21.2M1794.3 1798.6l21.2 21.2m0 -21.2l-21.2 21.2M1798 1805.8l21.2 21.2m0 -21.2l-21.2 21.2M1801.7 1812.9l21.2 21.2m0 -21.2l-21.2 21.2M1805.4 1806l21.2 21.2m0 -21.2l-21.2 21.2M1809.1 1796l21.2 21.2m0 -21.2l-21.2 21.2M1812.8 1777.8l21.2 21.2m0 -21.2l-21.2 21.2M1816.5 1751.1l21.2 21.2m0 -21.2l-21.2 21.2M1820.2 1724.3l21.2 21.2m0 -21.2l-21.2 21.2M1823.9 1697.5l21.2 21.2m0 -21.2l-21.2 21.2M1827.6 1676.8l21.2 21.2m0 -21.2l-21.2 21.2M1831.3 1679.9l21.2 21.2m0 -21.2l-21.2 21.2M1835 1704.8l21.2 21.2m0 -21.2l-21.2 21.2M1838.7 1723.5l21.2 21.2m0 -21.2l-21.2 21.2M1842.4 1706.5l21.2 21.2m0 -21.2l-21.2 21.2M1846.1 1677.5l21.2 21.2m0 -21.2l-21.2 21.2M1849.8 1660.3l21.2 21.2m0 -21.2l-21.2 21.2M1853.5 1685.2l21.2 21.2m0 -21.2l-21.2 21.2M1857.2 1719.9l21.2 21.2m0 -21.2l-21.2 21.2M1860.9 1756.3l21.2 21.2m0 -21.2l-21.2 21.2M1864.6 1781.1l21.2 21.2m0 -21.2l-21.2 21.2M1868.3 1795.5l21.2 21.2m0 -21.2l-21.2 21.2M1872 1803.1l21.2 21.2m0 -21.2l-21.2 21.2M1875.7 1810.7l21.2 21.2m0 -21.2l-21.2 21.2M1879.4 1799.6l21.2 21.2m0 -21.2l-21.2 21.2M1883.1 1788.1l21.2 21.2m0 -21.2l-21.2 21.2M1886.8 1760.5l21.2 21.2m0 -21.2l-21.2 21.2M1890.5 1730.3l21.2 21.2m0 -21.2l-21.2 21.2M1894.2 1693.6l21.2 21.2m0 -21.2l-21.2 21.2M1897.9 1672.5l21.2 21.2m0 -21.2l-21.2 21.2M1901.6 1657.2l21.2 21.2m0 -21.2l-21.2 21.2M1905.3 1688.5l21.2 21.2m0 -21.2l-21.2 21.2M1909 1717.8l21.2 21.2m0 -21.2l-21.2 21.2M1912.7 1736.2l21.2 21.2m0 -21.2l-21.2 21.2M1916.4 1715.7l21.2 21.2m0 -21.2l-21.2 21.2M1920.1 1683.4l21.2 21.2m0 -21.2l-21.2 21.2M1923.8 1669.1l21.2 21.2m0 -21.2l-21.2 21.2M1927.5 1693.9l21.2 21.2m0 -21.2l-21.2 21.2M1931.2 1726.9l21.2 21.2m0 -21.2l-21.2 21.2M1934.9 1761.3l21.2 21.2m0 -21.2l-21.2 21.2M1938.6 1781.6l21.2 21.2m0 -21.2l-21.2 21.2M1942.3 1798.9l21.2 21.2m0 -21.2l-21.2 21.2M1946 1807.1l21.2 21.2m0 -21.2l-21.2 21.2M1949.7 1813.3l21.2 21.2m0 -21.2l-21.2 21.2M1953.4 1806.1l21.2 21.2m0 -21.2l-21.2 21.2M1957.1 1799l21.2 21.2m0 -21.2l-21.2 21.2M1960.8 1774.8l21.2 21.2m0 -21.2l-21.2 21.2M1964.5 1745.9l21.2 21.2m0 -21.2l-21.2 21.2M1968.2 1711.5l21.2 21.2m0 -21.2l-21.2 21.2M1971.9 1685.1l21.2 21.2m0 -21.2l-21.2 21.2M1975.6 1669.8l21.2 21.2m0 -21.2l-21.2 21.2M1979.3 1694.6l21.2 21.2m0 -21.2l-21.2 21.2M1983 1716.3l21.2 21.2m0 -21.2l-21.2 21.2M1986.7 1732.3l21.2 21.2m0 -21.2l-21.2 21.2M1990.4 1702.7l21.2 21.2m0 -21.2l-21.2 21.2M1994.1 1674.2l21.2 21.2m0 -21.2l-21.2 21.2M1997.8 1657.8l21.2 21.2m0 -21.2l-21.2 21.2M2001.5 1684.4l21.2 21.2m0 -21.2l-21.2 21.2M2005.2 1718.7l21.2 21.2m0 -21.2l-21.2 21.2M2008.9 1758.6l21.2 21.2m0 -21.2l-21.2 21.2M2012.6 1779.7l21.2 21.2m0 -21.2l-21.2 21.2M2016.3 1795.9l21.2 21.2m0 -21.2l-21.2 21.2M2020 1801.7l21.2 21.2m0 -21.2l-21.2 21.2M2023.7 1807.4l21.2 21.2m0 -21.2l-21.2 21.2M2027.4 1796.3l21.2 21.2m0 -21.2l-21.2 21.2M2031.1 1781l21.2 21.2m0 -21.2l-21.2 21.2M2034.8 1752.3l21.2 21.2m0 -21.2l-21.2 21.2M2038.5 1722l21.2 21.2m0 -21.2l-21.2 21.2M2042.2 1690.1l21.2 21.2m0 -21.2l-21.2 21.2M2045.9 1674.3l21.2 21.2m0 -21.2l-21.2 21.2M2049.6 1658.6l21.2 21.2m0 -21.2l-21.2 21.2M2053.3 1681.3l21.2 21.2m0 -21.2l-21.2 21.2M2057 1720.2l21.2 21.2m0 -21.2l-21.2 21.2M2060.7 1747.8l21.2 21.2m0 -21.2l-21.2 21.2M2064.4 1723.7l21.2 21.2m0 -21.2l-21.2 21.2M2068.1 1708.2l21.2 21.2m0 -21.2l-21.2 21.2M2071.8 1727.3l21.2 21.2m0 -21.2l-21.2 21.2M2075.5 1769.8l21.2 21.2m0 -21.2l-21.2 21.2M2079.2 1797.5l21.2 21.2m0 -21.2l-21.2 21.2M2082.9 1825.3l21.2 21.2m0 -21.2l-21.2 21.2M2086.6 1849.3l21.2 21.2m0 -21.2l-21.2 21.2M2090.3 1866.1l21.2 21.2m0 -21.2l-21.2 21.2M2094 1876.5l21.2 21.2m0 -21.2l-21.2 21.2M2096.5 1890.9l21.2 21.2m0 -21.2l-21.2 21.2"/>
<polyline class="rd" points="261.9,1969.6 269.4,1954.4 275.9,1943.6 282.4,1917.7 287.8,1885.3 291.1,1852.9 293.2,1820.5 295.4,1788 297.5,1744.8 299.3,1701.6 300.8,1624.1 302.9,1559.3 305.1,1494.5 306.8,1429.7 308.8,1386.4 311.6,1360.5 315.9,1348.6 323.5,1345.8 345.1,1345.8 350.5,1348.6 354.8,1360.5 358,1386.4 360.2,1429.7 362.4,1472.9 364.5,1537.7 366.7,1602.5 369.9,1667.4 371,1701.6 374.3,1744.8 376.4,1788 378.6,1831.3 381.8,1874.5 388.3,1906.9 396.9,1928.5 403.4,1936.1 414.2,1936.1 422.9,1922 429.4,1906.9 435.8,1874.5 440.2,1831.3 442.3,1788 444.5,1744.8 446.7,1701.6 447.7,1624.1 449.9,1559.3 452.1,1494.5 454.2,1429.7 457.5,1375.6 460.7,1349.7 466.1,1342.1 474.7,1338.9 487.7,1339.5 496.4,1341.1 501.8,1349.7 505,1375.6 508.2,1429.7 510.4,1494.5 513.6,1559.3 515.8,1624.1 518,1678.2 519,1744.8 521.2,1788 523.4,1831.3 527.7,1874.5 533.1,1900.4 541.7,1924.2 554.7,1938.2 561.2,1931.8 568.7,1928.5 574.1,1906.9 580.6,1874.5 586,1831.3 589.3,1788 591.4,1744.8 593.6,1701.6 594.7,1624.1 596.8,1559.3 599,1494.5 601.2,1429.7 603.3,1386.4 606.6,1356.2 613,1343.2 621.7,1340 650,1340 652.2,1343.2 654.8,1351.9 656.5,1375.6 658.2,1429.7 659.7,1494.5 661.2,1559.3 663.4,1624.1 665.6,1678.2 666.2,1701.6 667.7,1744.8 669.9,1788 672.7,1831.3 677,1874.5 682.4,1906.9 691.1,1928.5 705.1,1938.2 714.8,1928.5 723.5,1906.9 730,1874.5 734.3,1831.3 737.5,1788 739.7,1744.8 741.2,1701.6 741.8,1624.1 744,1559.3 746.2,1494.5 748.3,1429.7 750.5,1386.4 753.7,1356.2 760.2,1344.3 768.9,1342.1 788.3,1342.1 794.8,1345.4 800.2,1360.5 802.4,1386.4 804.5,1429.7 806.7,1494.5 808.8,1559.3 811,1624.1 813.2,1678.2 813.8,1701.6 815.3,1744.8 817.5,1788 820.7,1831.3 825,1874.5 831.5,1906.9 840.2,1928.5 848.8,1937.2 857.5,1935 868.3,1917.7 874.7,1896.1 880.1,1852.9 883.4,1809.7 886.6,1766.4 888.8,1723.2 889.4,1645.8 891,1580.9 893.1,1516.1 895.3,1451.3 897.4,1397.2 900.7,1360.5 906.1,1345.4 913.6,1342.1 937.4,1342.1 943.9,1346.5 948.2,1364.8 950.8,1408 953,1472.9 955.8,1537.7 957.9,1602.5 960.8,1667.4 961.6,1701.6 963.3,1744.8 965.9,1788 968.7,1831.3 973.1,1874.5 978.5,1902.6 987.1,1926.4 999,1939.3 1013,1926.4 1021.7,1896.1 1028.2,1852.9 1032.5,1809.7 1034.7,1766.4 1036.8,1723.2 1037.5,1645.8 1039,1580.9 1041.1,1516.1 1043.3,1451.3 1045.9,1397.2 1050,1358.3 1054.3,1349.7 1060.8,1344.3 1069.4,1342.6 1082.4,1342.6 1088.9,1345.4 1093.2,1354 1095.4,1375.6 1097.1,1408 1099.3,1472.9 1101.9,1537.7 1104,1602.5 1106.6,1656.6 1108.3,1701.6 1109.4,1734 1110.9,1766.4 1113.7,1809.7 1117,1852.9 1121.3,1896.1 1127.8,1928.5 1136.4,1950.1 1145.1,1960.9 1153.7,1966.3 1166.7,1966.3 1175.3,1958.8 1181.8,1939.3 1185.1,1917.7 1188.3,1896.1 1191.5,1883.1 1196.9,1877.7 1207.8,1877.7 1216.4,1868 1222.9,1852.9 1229.4,1831.3 1233.7,1809.7 1238,1766.4 1242.3,1744.8 1247.7,1727.5 1253.1,1736.2 1257.5,1757.8 1262.9,1734 1268.3,1704.9 1272.6,1723.2 1276.9,1755.6 1283.4,1783.7 1289.9,1798.9 1295.3,1803.2 1301.8,1796.7 1307.2,1777.2 1311.5,1744.8 1315.8,1723.2 1321.2,1708.1 1326.6,1734 1330.9,1753.5 1336.3,1734 1341.7,1710.3 1347.1,1734 1352.5,1766.4 1359,1792.4 1367.7,1807.5 1374.1,1803.2 1380.6,1788 1386,1762.1 1390.4,1734 1395.8,1711.3 1401.2,1734 1406.6,1756.7 1413,1734 1417.4,1708.1 1422.8,1727.5 1428.2,1755.6 1434.7,1783.7 1441.1,1802.1 1454.3,1783.7 1459.7,1751.3 1464,1721 1468.4,1708 1473.8,1734 1479.2,1755.6 1484.6,1729.7 1490,1712.4 1495.4,1740.5 1501.9,1772.9 1508.3,1794.5 1517,1807.5 1525.6,1794.5 1532.1,1762.1 1537.5,1729.7 1542.9,1712.4 1548.3,1740.5 1552.6,1757.8 1558,1729.7 1563.5,1708 1568.9,1734 1575.3,1768.6 1581.8,1792.3 1590.5,1803.1 1599.1,1790.2 1605.6,1759.9 1611,1729.7 1616.4,1708 1621.8,1734 1627.2,1751.3 1632.6,1729.7 1638,1710.2 1643.4,1738.3 1648.8,1768.6 1655.3,1794.5 1662.9,1805.3 1671.5,1792.3 1678,1762.1 1683.4,1734 1689.9,1712.4 1695.3,1734 1700.7,1751.3 1706.1,1725.3 1712.6,1708 1718,1738.3 1723.4,1770.7 1729.8,1794.5 1737.4,1805.3 1746.1,1792.3 1752.5,1762.1 1757.9,1731.8 1764.4,1705.9 1769.8,1734 1775.2,1753.4 1780.6,1729.7 1786,1710.2 1791.4,1738.3 1796.8,1770.7 1803.3,1794.5 1812,1805.3 1820.6,1790.2 1827.1,1759.9 1833.6,1729.7 1839,1710.2 1844.4,1734 1849.4,1750.2 1855.1,1718.9 1859.4,1705.9 1864.8,1729.7 1869.2,1762.1 1875.6,1790.2 1885.4,1803.1 1892.9,1788 1899.4,1755.6 1904.8,1721 1911.3,1703.7 1917.8,1740.5 1923.2,1757.8 1929.7,1721 1934,1710.2 1939.4,1740.5 1944.8,1772.9 1951.3,1794.5 1958.8,1805.3 1967.5,1794.5 1974,1762.1 1979.4,1729.7 1984.8,1710.2 1991.2,1738.3 1996.7,1753.4 2002.1,1721 2007,1702.6 2012.9,1729.7 2018.3,1768.6 2024.7,1792.3 2033.4,1801 2039.9,1788 2046.4,1755.6 2051.8,1725.3 2060.4,1701.6 2065.8,1740.5 2070.1,1763.2 2075.5,1740.5 2079.8,1730.7 2085.3,1751.3 2089.6,1783.7 2093.9,1816.1 2098.2,1848.5 2102.5,1870.1 2106.9,1883.1"/>
<rect class="ax" x="261.7" y="1262" width="1897.7" height="798.8"/>
<path class="tk" d="M407.6 2057.3v-17.3M407.6 1265.4v17.3M553.7 2057.3v-17.3M553.7 1265.4v17.3M699.8 2057.3v-17.3M699.8 1265.4v17.3M845.9 2057.3v-17.3M845.9 1265.4v17.3M992 2057.3v-17.3M992 1265.4v17.3M1138.1 2057.3v-17.3M1138.1 1265.4v17.3M1284.2 2057.3v-17.3M1284.2 1265.4v17.3M1430.3 2057.3v-17.3M1430.3 1265.4v17.3M1576.4 2057.3v-17.3M1576.4 1265.4v17.3M1722.4 2057.3v-17.3M1722.4 1265.4v17.3M1868.5 2057.3v-17.3M1868.5 1265.4v17.3M2014.6 2057.3v-17.3M2014.6 1265.4v17.3M265.1 1899.8h17.3M2156 1899.8h-17.3M265.1 1740h17.3M2156 1740h-17.3M265.1 1580.3h17.3M2156 1580.3h-17.3M265.1 1420.5h17.3M2156 1420.5h-17.3"/>
<text class="t tl m" x="261.8" y="2143.7">0</text>
<text class="t tl m" x="407.6" y="2143.7">2</text>
<text class="t tl m" x="553.7" y="2143.7">4</text>
<text class="t tl m" x="699.8" y="2143.7">6</text>
<text class="t tl m" x="845.9" y="2143.7">8</text>
<text class="t tl m" x="991.7" y="2143.7">10</text>
<text class="t tl m" x="1137.5" y="2143.7">12</text>
<text class="t tl m" x="1283" y="2143.7">14</text>
<text class="t tl m" x="1429.3" y="2143.7">16</text>
<text class="t tl m" x="1575.4" y="2143.7">18</text>
<text class="t tl m" x="1720.6" y="2143.7">20</text>
<text class="t tl m" x="1866.7" y="2143.7">22</text>
<text class="t tl m" x="2012.8" y="2143.7">24</text>
<text class="t tl m" x="2158.9" y="2143.7">26</text>
<text class="t tl e" x="254.1" y="2091.8">0</text>
<text class="t tl e" x="254.1" y="1932">0.3</text>
<text class="t tl e" x="254.1" y="1772.2">0.6</text>
<text class="t tl e" x="254.1" y="1612.5">0.9</text>
<text class="t tl e" x="254.1" y="1452.8">1.2</text>
<text class="t tl e" x="254.1" y="1293">1.5</text>
<text class="t xl2" x="573.7" y="2240.9">Air-gap circumferential length (mm)</text>
<text class="t yl m" transform="translate(100.9 1660.2) rotate(-90)">Air-gap flux density (T)</text>
<text class="t cp" x="1078.3" y="2354.8">(<tspan class="b" dx="-3">c</tspan><tspan dx="-3">)</tspan></text>
<rect class="lg" x="1257.5" y="1914" width="811.1" height="109.5"/>
<path class="ll" d="M1267.9 1968.2H1328"/>
<path class="mk" d="M1286.7 1957.6l21.2 21.2m0 -21.2l-21.2 21.2"/>
<path class="lr" d="M1666.8 1967.6H1727.2"/>
<text class="t lt" x="1333.4" y="1999.8">3-D<tspan dx="-5"> FEA</tspan></text>
<text class="t lt" x="1732.5" y="1999.8">2-D<tspan dx="-5"> FEA</tspan></text>
</g>
</svg></body></html>
